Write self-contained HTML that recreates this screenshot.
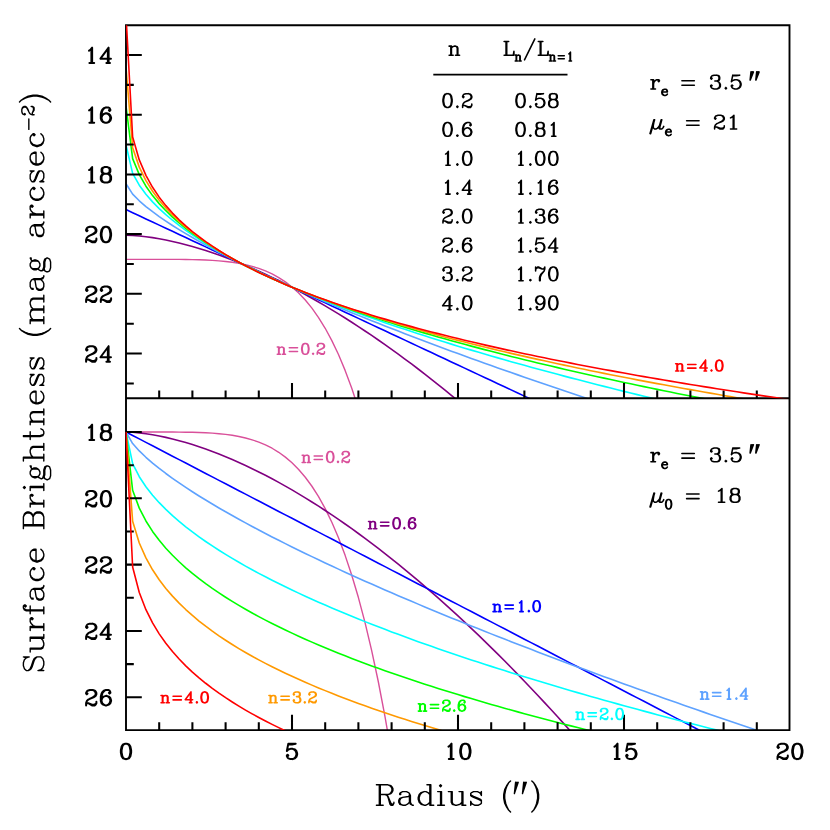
<!DOCTYPE html>
<html lang="en"><head><meta charset="utf-8"><title>Sersic surface brightness profiles</title>
<style>
html,body{margin:0;padding:0;background:#fff;font-family:"Liberation Sans",sans-serif;}
svg{display:block}
svg path,svg polyline{fill:none;stroke-linecap:round;stroke-linejoin:round}
svg .ax{stroke-linecap:butt;stroke-linejoin:miter}
svg .cv{stroke-linecap:butt;stroke-linejoin:round}
</style></head><body>
<svg width="830" height="830" viewBox="0 0 830 830" role="img" aria-label="Sersic profiles: surface brightness versus radius">
<rect width="830" height="830" fill="#fff" stroke="none"/>
<defs>
<clipPath id="ct"><rect x="125.8" y="25.25" width="663.7" height="373.05"/></clipPath>
<clipPath id="cb"><rect x="125.4" y="398.3" width="664.1" height="331.8"/></clipPath>
</defs>
<polyline class="cv" clip-path="url(#ct)" points="126,259.33 132.64,259.33 139.28,259.33 145.92,259.33 152.56,259.33 159.2,259.34 165.84,259.35 172.48,259.37 179.12,259.42 185.76,259.49 192.4,259.61 199.04,259.78 205.68,260.03 212.32,260.38 218.96,260.85 225.6,261.48 232.24,262.3 238.88,263.36 245.52,264.69 252.16,266.35 258.8,268.41 265.44,270.92 272.08,273.95 278.72,277.59 285.36,281.92 292,287.04 298.64,293.05 305.28,300.05 311.92,308.17 318.56,317.54 325.2,328.29 331.84,340.58 338.48,354.55 345.12,370.39 351.76,388.27 358.4,408.38 365.04,430.93 371.68,456.12 378.32,484.19 384.96,515.38 391.6,549.94 398.24,588.12 404.88,630.22 411.52,676.53 418.16,727.35 424.8,783.01 431.44,843.84 438.08,910.2 444.72,982.45 451.36,1060.98 458,1146.19 464.64,1238.5 471.28,1338.33 477.92,1446.15 484.56,1562.42 491.2,1687.63 497.84,1822.29 504.48,1966.91 511.12,2000" stroke="#d9509a" stroke-width="1.4"/>
<polyline class="cv" clip-path="url(#ct)" points="126,235.2 132.64,235.45 139.28,235.98 145.92,236.73 152.56,237.66 159.2,238.77 165.84,240.04 172.48,241.45 179.12,243.01 185.76,244.7 192.4,246.53 199.04,248.48 205.68,250.55 212.32,252.74 218.96,255.05 225.6,257.46 232.24,259.99 238.88,262.63 245.52,265.37 252.16,268.21 258.8,271.16 265.44,274.21 272.08,277.35 278.72,280.59 285.36,283.93 292,287.36 298.64,290.88 305.28,294.5 311.92,298.2 318.56,301.99 325.2,305.88 331.84,309.85 338.48,313.9 345.12,318.04 351.76,322.27 358.4,326.58 365.04,330.97 371.68,335.45 378.32,340 384.96,344.64 391.6,349.36 398.24,354.15 404.88,359.03 411.52,363.98 418.16,369.01 424.8,374.12 431.44,379.3 438.08,384.56 444.72,389.89 451.36,395.3 458,400.78 464.64,406.34 471.28,411.97 477.92,417.67 484.56,423.44 491.2,429.29 497.84,435.21 504.48,441.2 511.12,447.25 517.76,453.38 524.4,459.58 531.04,465.85 537.68,472.18 544.32,478.59 550.96,485.06 557.6,491.6 564.24,498.21 570.88,504.88 577.52,511.63 584.16,518.43 590.8,525.31 597.44,532.25 604.08,539.25 610.72,546.33 617.36,553.46 624,560.66 630.64,567.93 637.28,575.25 643.92,582.65 650.56,590.1 657.2,597.62 663.84,605.2 670.48,612.85 677.12,620.55 683.76,628.32 690.4,636.15 697.04,644.05 703.68,652 710.32,660.02 716.96,668.09 723.6,676.23 730.24,684.43 736.88,692.68 743.52,701 750.16,709.38 756.8,717.82 763.44,726.31 770.08,734.87 776.72,743.48 783.36,752.16 790,760.89" stroke="#800080" stroke-width="1.6"/>
<polyline class="cv" clip-path="url(#ct)" points="126,209.58 132.64,212.69 139.28,215.8 145.92,218.91 152.56,222.02 159.2,225.13 165.84,228.23 172.48,231.34 179.12,234.45 185.76,237.56 192.4,240.67 199.04,243.78 205.68,246.89 212.32,250 218.96,253.1 225.6,256.21 232.24,259.32 238.88,262.43 245.52,265.54 252.16,268.65 258.8,271.76 265.44,274.87 272.08,277.97 278.72,281.08 285.36,284.19 292,287.3 298.64,290.41 305.28,293.52 311.92,296.63 318.56,299.74 325.2,302.84 331.84,305.95 338.48,309.06 345.12,312.17 351.76,315.28 358.4,318.39 365.04,321.5 371.68,324.61 378.32,327.71 384.96,330.82 391.6,333.93 398.24,337.04 404.88,340.15 411.52,343.26 418.16,346.37 424.8,349.48 431.44,352.58 438.08,355.69 444.72,358.8 451.36,361.91 458,365.02 464.64,368.13 471.28,371.24 477.92,374.35 484.56,377.45 491.2,380.56 497.84,383.67 504.48,386.78 511.12,389.89 517.76,393 524.4,396.11 531.04,399.22 537.68,402.32 544.32,405.43 550.96,408.54 557.6,411.65 564.24,414.76 570.88,417.87 577.52,420.98 584.16,424.09 590.8,427.19 597.44,430.3 604.08,433.41 610.72,436.52 617.36,439.63 624,442.74 630.64,445.85 637.28,448.96 643.92,452.06 650.56,455.17 657.2,458.28 663.84,461.39 670.48,464.5 677.12,467.61 683.76,470.72 690.4,473.83 697.04,476.93 703.68,480.04 710.32,483.15 716.96,486.26 723.6,489.37 730.24,492.48 736.88,495.59 743.52,498.7 750.16,501.8 756.8,504.91 763.44,508.02 770.08,511.13 776.72,514.24 783.36,517.35 790,520.46" stroke="#0000ff" stroke-width="1.6"/>
<polyline class="cv" clip-path="url(#ct)" points="126,183.77 132.64,194.15 139.28,200.81 145.92,206.53 152.56,211.72 159.2,216.55 165.84,221.11 172.48,225.46 179.12,229.63 185.76,233.66 192.4,237.55 199.04,241.34 205.68,245.04 212.32,248.64 218.96,252.17 225.6,255.62 232.24,259.01 238.88,262.34 245.52,265.62 252.16,268.84 258.8,272.01 265.44,275.14 272.08,278.23 278.72,281.28 285.36,284.29 292,287.26 298.64,290.2 305.28,293.11 311.92,295.99 318.56,298.83 325.2,301.65 331.84,304.45 338.48,307.22 345.12,309.96 351.76,312.68 358.4,315.38 365.04,318.05 371.68,320.71 378.32,323.34 384.96,325.95 391.6,328.55 398.24,331.12 404.88,333.68 411.52,336.22 418.16,338.75 424.8,341.25 431.44,343.75 438.08,346.22 444.72,348.68 451.36,351.13 458,353.56 464.64,355.98 471.28,358.39 477.92,360.78 484.56,363.16 491.2,365.53 497.84,367.88 504.48,370.22 511.12,372.55 517.76,374.87 524.4,377.18 531.04,379.48 537.68,381.76 544.32,384.04 550.96,386.3 557.6,388.56 564.24,390.81 570.88,393.04 577.52,395.27 584.16,397.48 590.8,399.69 597.44,401.89 604.08,404.08 610.72,406.26 617.36,408.44 624,410.6 630.64,412.76 637.28,414.9 643.92,417.04 650.56,419.18 657.2,421.3 663.84,423.42 670.48,425.53 677.12,427.63 683.76,429.73 690.4,431.81 697.04,433.89 703.68,435.97 710.32,438.04 716.96,440.1 723.6,442.15 730.24,444.2 736.88,446.24 743.52,448.27 750.16,450.3 756.8,452.32 763.44,454.34 770.08,456.35 776.72,458.35 783.36,460.35 790,462.35" stroke="#5ea2ff" stroke-width="1.6"/>
<polyline class="cv" clip-path="url(#ct)" points="126,144.96 132.64,173.41 139.28,185.2 145.92,194.24 152.56,201.86 159.2,208.58 165.84,214.65 172.48,220.24 179.12,225.43 185.76,230.32 192.4,234.93 199.04,239.33 205.68,243.52 212.32,247.55 218.96,251.42 225.6,255.16 232.24,258.77 238.88,262.27 245.52,265.67 252.16,268.98 258.8,272.2 265.44,275.35 272.08,278.41 278.72,281.41 285.36,284.35 292,287.22 298.64,290.04 305.28,292.8 311.92,295.52 318.56,298.18 325.2,300.8 331.84,303.38 338.48,305.91 345.12,308.41 351.76,310.87 358.4,313.29 365.04,315.68 371.68,318.03 378.32,320.35 384.96,322.65 391.6,324.91 398.24,327.15 404.88,329.35 411.52,331.54 418.16,333.69 424.8,335.83 431.44,337.94 438.08,340.02 444.72,342.09 451.36,344.13 458,346.15 464.64,348.15 471.28,350.14 477.92,352.1 484.56,354.04 491.2,355.97 497.84,357.88 504.48,359.77 511.12,361.65 517.76,363.51 524.4,365.35 531.04,367.18 537.68,369 544.32,370.8 550.96,372.58 557.6,374.35 564.24,376.11 570.88,377.86 577.52,379.59 584.16,381.31 590.8,383.01 597.44,384.71 604.08,386.39 610.72,388.06 617.36,389.72 624,391.37 630.64,393.01 637.28,394.63 643.92,396.25 650.56,397.85 657.2,399.45 663.84,401.04 670.48,402.61 677.12,404.18 683.76,405.73 690.4,407.28 697.04,408.82 703.68,410.35 710.32,411.87 716.96,413.38 723.6,414.89 730.24,416.38 736.88,417.87 743.52,419.35 750.16,420.82 756.8,422.28 763.44,423.74 770.08,425.19 776.72,426.63 783.36,428.06 790,429.49" stroke="#00ffff" stroke-width="1.6"/>
<polyline class="cv" clip-path="url(#ct)" points="126,106.1 132.64,158.61 139.28,174.65 145.92,186.22 152.56,195.6 159.2,203.62 165.84,210.7 172.48,217.09 179.12,222.94 185.76,228.36 192.4,233.41 199.04,238.16 205.68,242.66 212.32,246.93 218.96,251 225.6,254.9 232.24,258.64 238.88,262.23 245.52,265.7 252.16,269.06 258.8,272.31 265.44,275.45 272.08,278.51 278.72,281.48 285.36,284.38 292,287.2 298.64,289.95 305.28,292.64 311.92,295.27 318.56,297.84 325.2,300.35 331.84,302.82 338.48,305.24 345.12,307.61 351.76,309.93 358.4,312.22 365.04,314.47 371.68,316.67 378.32,318.84 384.96,320.98 391.6,323.08 398.24,325.15 404.88,327.19 411.52,329.2 418.16,331.18 424.8,333.14 431.44,335.07 438.08,336.97 444.72,338.84 451.36,340.7 458,342.53 464.64,344.33 471.28,346.12 477.92,347.89 484.56,349.63 491.2,351.35 497.84,353.06 504.48,354.75 511.12,356.42 517.76,358.07 524.4,359.7 531.04,361.32 537.68,362.92 544.32,364.51 550.96,366.08 557.6,367.63 564.24,369.17 570.88,370.7 577.52,372.21 584.16,373.71 590.8,375.19 597.44,376.66 604.08,378.12 610.72,379.57 617.36,381 624,382.43 630.64,383.84 637.28,385.24 643.92,386.63 650.56,388.01 657.2,389.37 663.84,390.73 670.48,392.08 677.12,393.41 683.76,394.74 690.4,396.06 697.04,397.36 703.68,398.66 710.32,399.95 716.96,401.23 723.6,402.5 730.24,403.76 736.88,405.02 743.52,406.26 750.16,407.5 756.8,408.73 763.44,409.95 770.08,411.16 776.72,412.37 783.36,413.57 790,414.76" stroke="#00ff00" stroke-width="1.6"/>
<polyline class="cv" clip-path="url(#ct)" points="126,67.23 132.64,147.67 139.28,167.13 145.92,180.62 152.56,191.29 159.2,200.25 165.84,208.04 172.48,214.99 179.12,221.29 185.76,227.07 192.4,232.42 199.04,237.41 205.68,242.1 212.32,246.53 218.96,250.73 225.6,254.73 232.24,258.55 238.88,262.21 245.52,265.72 252.16,269.11 258.8,272.37 265.44,275.52 272.08,278.57 278.72,281.53 285.36,284.4 292,287.18 298.64,289.9 305.28,292.54 311.92,295.11 318.56,297.63 325.2,300.08 331.84,302.48 338.48,304.82 345.12,307.12 351.76,309.37 358.4,311.57 365.04,313.73 371.68,315.85 378.32,317.93 384.96,319.98 391.6,321.98 398.24,323.96 404.88,325.9 411.52,327.81 418.16,329.69 424.8,331.53 431.44,333.36 438.08,335.15 444.72,336.92 451.36,338.66 458,340.38 464.64,342.08 471.28,343.75 477.92,345.4 484.56,347.03 491.2,348.64 497.84,350.23 504.48,351.8 511.12,353.35 517.76,354.88 524.4,356.4 531.04,357.89 537.68,359.38 544.32,360.84 550.96,362.29 557.6,363.72 564.24,365.14 570.88,366.54 577.52,367.93 584.16,369.31 590.8,370.67 597.44,372.02 604.08,373.35 610.72,374.67 617.36,375.98 624,377.28 630.64,378.57 637.28,379.84 643.92,381.1 650.56,382.36 657.2,383.6 663.84,384.83 670.48,386.05 677.12,387.26 683.76,388.46 690.4,389.65 697.04,390.83 703.68,392 710.32,393.16 716.96,394.31 723.6,395.46 730.24,396.59 736.88,397.72 743.52,398.84 750.16,399.95 756.8,401.05 763.44,402.15 770.08,403.23 776.72,404.31 783.36,405.38 790,406.45" stroke="#ff9900" stroke-width="1.6"/>
<polyline class="cv" clip-path="url(#cb)" points="126,432 132.64,432 139.28,432 145.92,432 152.56,432 159.2,432.01 165.84,432.02 172.48,432.05 179.12,432.1 185.76,432.19 192.4,432.32 199.04,432.51 205.68,432.78 212.32,433.17 218.96,433.7 225.6,434.39 232.24,435.31 238.88,436.48 245.52,437.96 252.16,439.81 258.8,442.09 265.44,444.87 272.08,448.24 278.72,452.29 285.36,457.1 292,462.78 298.64,469.45 305.28,477.23 311.92,486.25 318.56,496.65 325.2,508.6 331.84,522.24 338.48,537.77 345.12,555.36 351.76,575.22 358.4,597.56 365.04,622.6 371.68,650.58 378.32,681.76 384.96,716.4 391.6,754.78 398.24,797.19 404.88,843.96 411.52,895.39 418.16,951.84 424.8,1013.66 431.44,1081.22 438.08,1154.93 444.72,1235.18 451.36,1322.4 458,1417.04 464.64,1519.57 471.28,1630.46 477.92,1750.21 484.56,1879.35 491.2,2000" stroke="#d9509a" stroke-width="1.4"/>
<polyline class="cv" clip-path="url(#cb)" points="126,432 132.64,432.27 139.28,432.86 145.92,433.69 152.56,434.73 159.2,435.96 165.84,437.37 172.48,438.94 179.12,440.67 185.76,442.55 192.4,444.58 199.04,446.75 205.68,449.05 212.32,451.48 218.96,454.04 225.6,456.73 232.24,459.53 238.88,462.46 245.52,465.51 252.16,468.66 258.8,471.94 265.44,475.32 272.08,478.81 278.72,482.41 285.36,486.12 292,489.93 298.64,493.84 305.28,497.86 311.92,501.97 318.56,506.19 325.2,510.5 331.84,514.91 338.48,519.41 345.12,524.01 351.76,528.71 358.4,533.49 365.04,538.37 371.68,543.34 378.32,548.4 384.96,553.55 391.6,558.79 398.24,564.12 404.88,569.53 411.52,575.03 418.16,580.62 424.8,586.29 431.44,592.05 438.08,597.89 444.72,603.81 451.36,609.82 458,615.91 464.64,622.08 471.28,628.33 477.92,634.67 484.56,641.08 491.2,647.57 497.84,654.15 504.48,660.8 511.12,667.53 517.76,674.33 524.4,681.22 531.04,688.18 537.68,695.21 544.32,702.33 550.96,709.52 557.6,716.78 564.24,724.12 570.88,731.54 577.52,739.02 584.16,746.59 590.8,754.22 597.44,761.93 604.08,769.71 610.72,777.56 617.36,785.49 624,793.49 630.64,801.56 637.28,809.7 643.92,817.91 650.56,826.19 657.2,834.54 663.84,842.96 670.48,851.45 677.12,860.01 683.76,868.64 690.4,877.34 697.04,886.1 703.68,894.94 710.32,903.84 716.96,912.81 723.6,921.85 730.24,930.95 736.88,940.12 743.52,949.36 750.16,958.67 756.8,968.04 763.44,977.48 770.08,986.98 776.72,996.55 783.36,1006.18 790,1015.88" stroke="#800080" stroke-width="1.6"/>
<polyline class="cv" clip-path="url(#cb)" points="126,432 132.64,435.45 139.28,438.91 145.92,442.36 152.56,445.81 159.2,449.26 165.84,452.72 172.48,456.17 179.12,459.62 185.76,463.08 192.4,466.53 199.04,469.98 205.68,473.43 212.32,476.89 218.96,480.34 225.6,483.79 232.24,487.25 238.88,490.7 245.52,494.15 252.16,497.6 258.8,501.06 265.44,504.51 272.08,507.96 278.72,511.42 285.36,514.87 292,518.32 298.64,521.78 305.28,525.23 311.92,528.68 318.56,532.13 325.2,535.59 331.84,539.04 338.48,542.49 345.12,545.95 351.76,549.4 358.4,552.85 365.04,556.3 371.68,559.76 378.32,563.21 384.96,566.66 391.6,570.12 398.24,573.57 404.88,577.02 411.52,580.47 418.16,583.93 424.8,587.38 431.44,590.83 438.08,594.29 444.72,597.74 451.36,601.19 458,604.64 464.64,608.1 471.28,611.55 477.92,615 484.56,618.46 491.2,621.91 497.84,625.36 504.48,628.81 511.12,632.27 517.76,635.72 524.4,639.17 531.04,642.63 537.68,646.08 544.32,649.53 550.96,652.98 557.6,656.44 564.24,659.89 570.88,663.34 577.52,666.8 584.16,670.25 590.8,673.7 597.44,677.16 604.08,680.61 610.72,684.06 617.36,687.51 624,690.97 630.64,694.42 637.28,697.87 643.92,701.33 650.56,704.78 657.2,708.23 663.84,711.68 670.48,715.14 677.12,718.59 683.76,722.04 690.4,725.5 697.04,728.95 703.68,732.4 710.32,735.85 716.96,739.31 723.6,742.76 730.24,746.21 736.88,749.67 743.52,753.12 750.16,756.57 756.8,760.02 763.44,763.48 770.08,766.93 776.72,770.38 783.36,773.84 790,777.29" stroke="#0000ff" stroke-width="1.6"/>
<polyline class="cv" clip-path="url(#cb)" points="126,432 132.64,443.53 139.28,450.92 145.92,457.28 152.56,463.05 159.2,468.41 165.84,473.48 172.48,478.3 179.12,482.94 185.76,487.41 192.4,491.74 199.04,495.95 205.68,500.05 212.32,504.05 218.96,507.97 225.6,511.81 232.24,515.57 238.88,519.27 245.52,522.91 252.16,526.49 258.8,530.01 265.44,533.49 272.08,536.92 278.72,540.3 285.36,543.64 292,546.95 298.64,550.21 305.28,553.44 311.92,556.64 318.56,559.8 325.2,562.93 331.84,566.04 338.48,569.11 345.12,572.16 351.76,575.18 358.4,578.18 365.04,581.15 371.68,584.09 378.32,587.02 384.96,589.92 391.6,592.8 398.24,595.67 404.88,598.51 411.52,601.33 418.16,604.13 424.8,606.92 431.44,609.69 438.08,612.44 444.72,615.17 451.36,617.89 458,620.59 464.64,623.28 471.28,625.95 477.92,628.6 484.56,631.25 491.2,633.88 497.84,636.49 504.48,639.09 511.12,641.68 517.76,644.26 524.4,646.82 531.04,649.37 537.68,651.91 544.32,654.44 550.96,656.96 557.6,659.46 564.24,661.95 570.88,664.44 577.52,666.91 584.16,669.37 590.8,671.83 597.44,674.27 604.08,676.7 610.72,679.12 617.36,681.54 624,683.94 630.64,686.34 637.28,688.72 643.92,691.1 650.56,693.47 657.2,695.83 663.84,698.18 670.48,700.52 677.12,702.86 683.76,705.18 690.4,707.5 697.04,709.81 703.68,712.12 710.32,714.41 716.96,716.7 723.6,718.98 730.24,721.26 736.88,723.52 743.52,725.78 750.16,728.04 756.8,730.28 763.44,732.52 770.08,734.75 776.72,736.98 783.36,739.2 790,741.41" stroke="#5ea2ff" stroke-width="1.6"/>
<polyline class="cv" clip-path="url(#cb)" points="126,432 132.64,463.6 139.28,476.69 145.92,486.74 152.56,495.21 159.2,502.67 165.84,509.41 172.48,515.61 179.12,521.39 185.76,526.81 192.4,531.94 199.04,536.82 205.68,541.48 212.32,545.95 218.96,550.25 225.6,554.4 232.24,558.41 238.88,562.3 245.52,566.08 252.16,569.75 258.8,573.33 265.44,576.82 272.08,580.23 278.72,583.56 285.36,586.82 292,590.02 298.64,593.14 305.28,596.21 311.92,599.23 318.56,602.19 325.2,605.1 331.84,607.96 338.48,610.77 345.12,613.55 351.76,616.28 358.4,618.97 365.04,621.62 371.68,624.23 378.32,626.81 384.96,629.36 391.6,631.88 398.24,634.36 404.88,636.81 411.52,639.24 418.16,641.63 424.8,644 431.44,646.34 438.08,648.66 444.72,650.95 451.36,653.22 458,655.47 464.64,657.69 471.28,659.89 477.92,662.07 484.56,664.23 491.2,666.37 497.84,668.5 504.48,670.6 511.12,672.68 517.76,674.75 524.4,676.8 531.04,678.83 537.68,680.84 544.32,682.84 550.96,684.82 557.6,686.79 564.24,688.74 570.88,690.68 577.52,692.61 584.16,694.52 590.8,696.41 597.44,698.29 604.08,700.16 610.72,702.02 617.36,703.86 624,705.69 630.64,707.51 637.28,709.32 643.92,711.11 650.56,712.89 657.2,714.67 663.84,716.43 670.48,718.18 677.12,719.92 683.76,721.65 690.4,723.37 697.04,725.08 703.68,726.77 710.32,728.46 716.96,730.14 723.6,731.81 730.24,733.47 736.88,735.13 743.52,736.77 750.16,738.4 756.8,740.03 763.44,741.65 770.08,743.25 776.72,744.85 783.36,746.45 790,748.03" stroke="#00ffff" stroke-width="1.6"/>
<polyline class="cv" clip-path="url(#cb)" points="126,432 132.64,490.32 139.28,508.14 145.92,520.99 152.56,531.4 159.2,540.31 165.84,548.18 172.48,555.28 179.12,561.77 185.76,567.79 192.4,573.4 199.04,578.68 205.68,583.67 212.32,588.42 218.96,592.94 225.6,597.27 232.24,601.42 238.88,605.42 245.52,609.27 252.16,613 258.8,616.6 265.44,620.1 272.08,623.5 278.72,626.8 285.36,630.01 292,633.15 298.64,636.2 305.28,639.19 311.92,642.11 318.56,644.96 325.2,647.76 331.84,650.5 338.48,653.18 345.12,655.81 351.76,658.4 358.4,660.94 365.04,663.43 371.68,665.88 378.32,668.29 384.96,670.67 391.6,673 398.24,675.3 404.88,677.57 411.52,679.8 418.16,682 424.8,684.17 431.44,686.31 438.08,688.42 444.72,690.51 451.36,692.57 458,694.6 464.64,696.61 471.28,698.59 477.92,700.55 484.56,702.49 491.2,704.4 497.84,706.3 504.48,708.17 511.12,710.02 517.76,711.86 524.4,713.67 531.04,715.47 537.68,717.25 544.32,719.01 550.96,720.75 557.6,722.48 564.24,724.19 570.88,725.89 577.52,727.56 584.16,729.23 590.8,730.88 597.44,732.51 604.08,734.13 610.72,735.74 617.36,737.34 624,738.92 630.64,740.48 637.28,742.04 643.92,743.58 650.56,745.11 657.2,746.63 663.84,748.14 670.48,749.63 677.12,751.12 683.76,752.59 690.4,754.05 697.04,755.5 703.68,756.95 710.32,758.38 716.96,759.8 723.6,761.21 730.24,762.61 736.88,764.01 743.52,765.39 750.16,766.76 756.8,768.13 763.44,769.48 770.08,770.83 776.72,772.17 783.36,773.5 790,774.83" stroke="#00ff00" stroke-width="1.6"/>
<polyline class="cv" clip-path="url(#cb)" points="126,432 132.64,521.35 139.28,542.95 145.92,557.94 152.56,569.79 159.2,579.74 165.84,588.4 172.48,596.12 179.12,603.12 185.76,609.53 192.4,615.47 199.04,621.02 205.68,626.23 212.32,631.15 218.96,635.82 225.6,640.26 232.24,644.5 238.88,648.57 245.52,652.47 252.16,656.22 258.8,659.85 265.44,663.35 272.08,666.74 278.72,670.02 285.36,673.21 292,676.3 298.64,679.32 305.28,682.25 311.92,685.11 318.56,687.9 325.2,690.63 331.84,693.29 338.48,695.9 345.12,698.45 351.76,700.94 358.4,703.39 365.04,705.79 371.68,708.14 378.32,710.46 384.96,712.72 391.6,714.95 398.24,717.15 404.88,719.3 411.52,721.42 418.16,723.51 424.8,725.56 431.44,727.59 438.08,729.58 444.72,731.54 451.36,733.48 458,735.39 464.64,737.27 471.28,739.13 477.92,740.97 484.56,742.78 491.2,744.56 497.84,746.33 504.48,748.07 511.12,749.79 517.76,751.5 524.4,753.18 531.04,754.84 537.68,756.49 544.32,758.11 550.96,759.72 557.6,761.31 564.24,762.89 570.88,764.45 577.52,765.99 584.16,767.52 590.8,769.03 597.44,770.53 604.08,772.01 610.72,773.48 617.36,774.93 624,776.37 630.64,777.8 637.28,779.22 643.92,780.62 650.56,782.01 657.2,783.39 663.84,784.76 670.48,786.11 677.12,787.46 683.76,788.79 690.4,790.11 697.04,791.42 703.68,792.72 710.32,794.01 716.96,795.29 723.6,796.56 730.24,797.83 736.88,799.08 743.52,800.32 750.16,801.55 756.8,802.78 763.44,803.99 770.08,805.2 776.72,806.4 783.36,807.59 790,808.77" stroke="#ff9900" stroke-width="1.6"/>
<path d="M126 25.25H789.5V730.1H126Z M126 398.3H789.5" stroke="#000" stroke-width="1.9" class="ax"/>
<path d="M159.2 398.3v-7.8M192.4 398.3v-7.8M225.6 398.3v-7.8M258.8 398.3v-7.8M292 398.3v-15.4M325.2 398.3v-7.8M358.4 398.3v-7.8M391.6 398.3v-7.8M424.8 398.3v-7.8M458 398.3v-15.4M491.2 398.3v-7.8M524.4 398.3v-7.8M557.6 398.3v-7.8M590.8 398.3v-7.8M624 398.3v-15.4M657.2 398.3v-7.8M690.4 398.3v-7.8M723.6 398.3v-7.8M756.8 398.3v-7.8M159.2 730.1v-7.8M192.4 730.1v-7.8M225.6 730.1v-7.8M258.8 730.1v-7.8M292 730.1v-15.4M325.2 730.1v-7.8M358.4 730.1v-7.8M391.6 730.1v-7.8M424.8 730.1v-7.8M458 730.1v-15.4M491.2 730.1v-7.8M524.4 730.1v-7.8M557.6 730.1v-7.8M590.8 730.1v-7.8M624 730.1v-15.4M657.2 730.1v-7.8M690.4 730.1v-7.8M723.6 730.1v-7.8M756.8 730.1v-7.8M126 55h15.8M126 84.86h7.8M126 114.71h15.8M126 144.56h7.8M126 174.42h15.8M126 204.28h7.8M126 234.13h15.8M126 263.99h7.8M126 293.84h15.8M126 323.69h7.8M126 353.55h15.8M126 383.41h7.8M126 432h15.8M126 465.16h7.8M126 498.32h15.8M126 531.48h7.8M126 564.64h15.8M126 597.8h7.8M126 630.96h15.8M126 664.12h7.8M126 697.28h15.8" stroke="#000" stroke-width="2.05" class="ax"/>
<polyline class="cv" clip-path="url(#ct)" points="126,15.39 132.64,136.93 139.28,159.93 145.92,175.35 152.56,187.28 159.2,197.14 165.84,205.62 172.48,213.09 179.12,219.8 185.76,225.91 192.4,231.53 199.04,236.74 205.68,241.61 212.32,246.18 218.96,250.5 225.6,254.59 232.24,258.48 238.88,262.19 245.52,265.74 252.16,269.15 258.8,272.42 265.44,275.58 272.08,278.62 278.72,281.56 285.36,284.41 292,287.17 298.64,289.85 305.28,292.45 311.92,294.98 318.56,297.44 325.2,299.84 331.84,302.19 338.48,304.47 345.12,306.7 351.76,308.89 358.4,311.02 365.04,313.11 371.68,315.16 378.32,317.16 384.96,319.13 391.6,321.06 398.24,322.95 404.88,324.81 411.52,326.63 418.16,328.43 424.8,330.19 431.44,331.93 438.08,333.63 444.72,335.31 451.36,336.97 458,338.59 464.64,340.2 471.28,341.78 477.92,343.34 484.56,344.87 491.2,346.39 497.84,347.88 504.48,349.36 511.12,350.81 517.76,352.25 524.4,353.67 531.04,355.07 537.68,356.45 544.32,357.82 550.96,359.17 557.6,360.5 564.24,361.82 570.88,363.13 577.52,364.42 584.16,365.69 590.8,366.96 597.44,368.21 604.08,369.44 610.72,370.66 617.36,371.88 624,373.07 630.64,374.26 637.28,375.43 643.92,376.6 650.56,377.75 657.2,378.89 663.84,380.02 670.48,381.14 677.12,382.25 683.76,383.35 690.4,384.44 697.04,385.52 703.68,386.59 710.32,387.66 716.96,388.71 723.6,389.75 730.24,390.79 736.88,391.82 743.52,392.84 750.16,393.85 756.8,394.85 763.44,395.84 770.08,396.83 776.72,397.81 783.36,398.78 790,399.75" stroke="#ff0000" stroke-width="1.6"/>
<polyline class="cv" clip-path="url(#cb)" points="126,432 132.64,567 139.28,592.54 145.92,609.67 152.56,622.92 159.2,633.87 165.84,643.29 172.48,651.59 179.12,659.04 185.76,665.83 192.4,672.07 199.04,677.86 205.68,683.26 212.32,688.34 218.96,693.13 225.6,697.68 232.24,702 238.88,706.12 245.52,710.07 252.16,713.85 258.8,717.49 265.44,720.99 272.08,724.37 278.72,727.64 285.36,730.8 292,733.87 298.64,736.84 305.28,739.73 311.92,742.54 318.56,745.28 325.2,747.95 331.84,750.55 338.48,753.08 345.12,755.56 351.76,757.99 358.4,760.36 365.04,762.68 371.68,764.95 378.32,767.18 384.96,769.36 391.6,771.51 398.24,773.61 404.88,775.67 411.52,777.7 418.16,779.69 424.8,781.65 431.44,783.58 438.08,785.47 444.72,787.34 451.36,789.18 458,790.98 464.64,792.77 471.28,794.52 477.92,796.25 484.56,797.96 491.2,799.64 497.84,801.3 504.48,802.94 511.12,804.55 517.76,806.15 524.4,807.72 531.04,809.28 537.68,810.82 544.32,812.34 550.96,813.84 557.6,815.32 564.24,816.79 570.88,818.23 577.52,819.67 584.16,821.08 590.8,822.49 597.44,823.87 604.08,825.25 610.72,826.61 617.36,827.95 624,829.28 630.64,830.6 637.28,831.9 643.92,833.2 650.56,834.48 657.2,835.74 663.84,837 670.48,838.24 677.12,839.48 683.76,840.7 690.4,841.91 697.04,843.11 703.68,844.3 710.32,845.48 716.96,846.65 723.6,847.81 730.24,848.96 736.88,850.1 743.52,851.23 750.16,852.35 756.8,853.47 763.44,854.57 770.08,855.67 776.72,856.76 783.36,857.83 790,858.91" stroke="#ff0000" stroke-width="1.6"/>
<path role="img" aria-label="n=0.2" d="M278.62 347.09 278.62 354.34M279.08 347.09 279.08 354.34M279.08 348.64 280 347.61 281.39 347.09 282.31 347.09 283.69 347.61 284.15 348.64 284.15 354.34M282.31 347.09 283.23 347.61 283.69 348.64 283.69 354.34M277.24 347.09 279.08 347.09M277.24 354.34 280.46 354.34M282.31 354.34 285.53 354.34M289.26 347.81 297.55 347.81M289.26 351.44 297.55 351.44M304.8 343.46 303.24 343.98 302.21 345.53 301.69 348.12 301.69 349.68 302.21 352.27 303.24 353.82 304.8 354.34 305.83 354.34 307.39 353.82 308.42 352.27 308.94 349.68 308.94 348.12 308.42 345.53 307.39 343.98 305.83 343.46 304.8 343.46M304.8 343.46 303.76 343.98 303.24 344.5 302.73 345.53 302.21 348.12 302.21 349.68 302.73 352.27 303.24 353.3 303.76 353.82 304.8 354.34M305.83 354.34 306.87 353.82 307.39 353.3 307.91 352.27 308.42 349.68 308.42 348.12 307.91 345.53 307.39 344.5 306.87 343.98 305.83 343.46M313.09 353.3 312.57 353.82 313.09 354.34 313.6 353.82 313.09 353.3M317.75 345.53 318.27 346.05 317.75 346.57 317.23 346.05 317.23 345.53 317.75 344.5 318.27 343.98 319.82 343.46 321.89 343.46 323.45 343.98 323.96 344.5 324.48 345.53 324.48 346.57 323.96 347.61 322.41 348.64 319.82 349.68 318.78 350.2 317.75 351.23 317.23 352.79 317.23 354.34M321.89 343.46 322.93 343.98 323.45 344.5 323.96 345.53 323.96 346.57 323.45 347.61 321.89 348.64 319.82 349.68M317.23 353.3 317.75 352.79 318.78 352.79 321.37 353.82 322.93 353.82 323.96 353.3 324.48 352.79M318.78 352.79 321.37 354.34 323.45 354.34 323.96 353.82 324.48 352.79 324.48 351.75" stroke="#d9509a" stroke-width="1.5"><title>n=0.2</title></path>
<path role="img" aria-label="n=0.2" d="M303.52 455.16 303.52 462.41M303.98 455.16 303.98 462.41M303.98 456.71 304.9 455.68 306.29 455.16 307.21 455.16 308.59 455.68 309.05 456.71 309.05 462.41M307.21 455.16 308.13 455.68 308.59 456.71 308.59 462.41M302.14 455.16 303.98 455.16M302.14 462.41 305.36 462.41M307.21 462.41 310.43 462.41M314.16 455.88 322.45 455.88M314.16 459.51 322.45 459.51M329.7 451.53 328.14 452.05 327.11 453.6 326.59 456.19 326.59 457.75 327.11 460.34 328.14 461.89 329.7 462.41 330.73 462.41 332.29 461.89 333.32 460.34 333.84 457.75 333.84 456.19 333.32 453.6 332.29 452.05 330.73 451.53 329.7 451.53M329.7 451.53 328.66 452.05 328.14 452.57 327.63 453.6 327.11 456.19 327.11 457.75 327.63 460.34 328.14 461.37 328.66 461.89 329.7 462.41M330.73 462.41 331.77 461.89 332.29 461.37 332.81 460.34 333.32 457.75 333.32 456.19 332.81 453.6 332.29 452.57 331.77 452.05 330.73 451.53M337.99 461.37 337.47 461.89 337.99 462.41 338.5 461.89 337.99 461.37M342.65 453.6 343.17 454.12 342.65 454.64 342.13 454.12 342.13 453.6 342.65 452.57 343.17 452.05 344.72 451.53 346.79 451.53 348.35 452.05 348.86 452.57 349.38 453.6 349.38 454.64 348.86 455.68 347.31 456.71 344.72 457.75 343.68 458.27 342.65 459.3 342.13 460.86 342.13 462.41M346.79 451.53 347.83 452.05 348.35 452.57 348.86 453.6 348.86 454.64 348.35 455.68 346.79 456.71 344.72 457.75M342.13 461.37 342.65 460.86 343.68 460.86 346.27 461.89 347.83 461.89 348.86 461.37 349.38 460.86M343.68 460.86 346.27 462.41 348.35 462.41 348.86 461.89 349.38 460.86 349.38 459.82" stroke="#d9509a" stroke-width="1.5"><title>n=0.2</title></path>
<path role="img" aria-label="n=0.6" d="M369.92 521.48 369.92 528.73M370.38 521.48 370.38 528.73M370.38 523.03 371.3 522 372.69 521.48 373.61 521.48 374.99 522 375.45 523.03 375.45 528.73M373.61 521.48 374.53 522 374.99 523.03 374.99 528.73M368.54 521.48 370.38 521.48M368.54 528.73 371.76 528.73M373.61 528.73 376.83 528.73M380.56 522.2 388.85 522.2M380.56 525.83 388.85 525.83M396.1 517.85 394.54 518.37 393.51 519.92 392.99 522.51 392.99 524.07 393.51 526.66 394.54 528.21 396.1 528.73 397.13 528.73 398.69 528.21 399.72 526.66 400.24 524.07 400.24 522.51 399.72 519.92 398.69 518.37 397.13 517.85 396.1 517.85M396.1 517.85 395.06 518.37 394.54 518.89 394.03 519.92 393.51 522.51 393.51 524.07 394.03 526.66 394.54 527.69 395.06 528.21 396.1 528.73M397.13 528.73 398.17 528.21 398.69 527.69 399.21 526.66 399.72 524.07 399.72 522.51 399.21 519.92 398.69 518.89 398.17 518.37 397.13 517.85M404.39 527.69 403.87 528.21 404.39 528.73 404.9 528.21 404.39 527.69M414.75 519.41 414.23 519.92 414.75 520.44 415.26 519.92 415.26 519.41 414.75 518.37 413.71 517.85 412.16 517.85 410.6 518.37 409.57 519.41 409.05 520.44 408.53 522.51 408.53 525.62 409.05 527.18 410.08 528.21 411.64 528.73 412.67 528.73 414.23 528.21 415.26 527.18 415.78 525.62 415.78 525.1 415.26 523.55 414.23 522.51 412.67 522 412.16 522 410.6 522.51 409.57 523.55 409.05 525.1M412.16 517.85 411.12 518.37 410.08 519.41 409.57 520.44 409.05 522.51 409.05 525.62 409.57 527.18 410.6 528.21 411.64 528.73M412.67 528.73 413.71 528.21 414.75 527.18 415.26 525.62 415.26 525.1 414.75 523.55 413.71 522.51 412.67 522" stroke="#800080" stroke-width="1.6"><title>n=0.6</title></path>
<path role="img" aria-label="n=1.0" d="M494.42 604.38 494.42 611.63M494.88 604.38 494.88 611.63M494.88 605.93 495.8 604.89 497.19 604.38 498.11 604.38 499.49 604.89 499.95 605.93 499.95 611.63M498.11 604.38 499.03 604.89 499.49 605.93 499.49 611.63M493.04 604.38 494.88 604.38M493.04 611.63 496.26 611.63M498.11 611.63 501.33 611.63M505.06 605.1 513.35 605.1M505.06 608.73 513.35 608.73M519.56 602.82 520.44 602.3 521.74 600.75 521.74 611.63M521.22 601.27 521.22 611.63M519.82 611.63 523.19 611.63M528.89 610.59 528.37 611.11 528.89 611.63 529.4 611.11 528.89 610.59M536.14 600.75 534.58 601.27 533.55 602.82 533.03 605.41 533.03 606.97 533.55 609.56 534.58 611.11 536.14 611.63 537.17 611.63 538.73 611.11 539.76 609.56 540.28 606.97 540.28 605.41 539.76 602.82 538.73 601.27 537.17 600.75 536.14 600.75M536.14 600.75 535.1 601.27 534.58 601.79 534.07 602.82 533.55 605.41 533.55 606.97 534.07 609.56 534.58 610.59 535.1 611.11 536.14 611.63M537.17 611.63 538.21 611.11 538.73 610.59 539.25 609.56 539.76 606.97 539.76 605.41 539.25 602.82 538.73 601.79 538.21 601.27 537.17 600.75" stroke="#0000ff" stroke-width="1.6"><title>n=1.0</title></path>
<path role="img" aria-label="n=1.4" d="M701.92 691.92 701.92 699.17M702.38 691.92 702.38 699.17M702.38 693.47 703.3 692.44 704.69 691.92 705.61 691.92 706.99 692.44 707.45 693.47 707.45 699.17M705.61 691.92 706.53 692.44 706.99 693.47 706.99 699.17M700.54 691.92 702.38 691.92M700.54 699.17 703.76 699.17M705.61 699.17 708.83 699.17M712.56 692.64 720.85 692.64M712.56 696.27 720.85 696.27M727.06 690.37 727.94 689.85 729.24 688.29 729.24 699.17M728.72 688.81 728.72 699.17M727.32 699.17 730.69 699.17M736.39 698.14 735.87 698.65 736.39 699.17 736.9 698.65 736.39 698.14M745.5 689.33 745.5 699.17M746.02 688.29 746.02 699.17M746.02 688.29 740.27 696.06 747.68 696.06M744.47 699.17 747.01 699.17" stroke="#5ea2ff" stroke-width="1.6"><title>n=1.4</title></path>
<path role="img" aria-label="n=2.0" d="M577.42 712.15 577.42 719.4M577.88 712.15 577.88 719.4M577.88 713.7 578.8 712.66 580.19 712.15 581.11 712.15 582.49 712.66 582.95 713.7 582.95 719.4M581.11 712.15 582.03 712.66 582.49 713.7 582.49 719.4M576.04 712.15 577.88 712.15M576.04 719.4 579.26 719.4M581.11 719.4 584.33 719.4M588.06 712.87 596.35 712.87M588.06 716.5 596.35 716.5M601.01 710.59 601.53 711.11 601.01 711.63 600.49 711.11 600.49 710.59 601.01 709.56 601.53 709.04 603.08 708.52 605.15 708.52 606.71 709.04 607.22 709.56 607.74 710.59 607.74 711.63 607.22 712.66 605.67 713.7 603.08 714.74 602.04 715.25 601.01 716.29 600.49 717.84 600.49 719.4M605.15 708.52 606.19 709.04 606.71 709.56 607.22 710.59 607.22 711.63 606.71 712.66 605.15 713.7 603.08 714.74M600.49 718.36 601.01 717.84 602.04 717.84 604.63 718.88 606.19 718.88 607.22 718.36 607.74 717.84M602.04 717.84 604.63 719.4 606.71 719.4 607.22 718.88 607.74 717.84 607.74 716.81M611.89 718.36 611.37 718.88 611.89 719.4 612.4 718.88 611.89 718.36M619.14 708.52 617.58 709.04 616.55 710.59 616.03 713.18 616.03 714.74 616.55 717.33 617.58 718.88 619.14 719.4 620.17 719.4 621.73 718.88 622.76 717.33 623.28 714.74 623.28 713.18 622.76 710.59 621.73 709.04 620.17 708.52 619.14 708.52M619.14 708.52 618.1 709.04 617.58 709.56 617.07 710.59 616.55 713.18 616.55 714.74 617.07 717.33 617.58 718.36 618.1 718.88 619.14 719.4M620.17 719.4 621.21 718.88 621.73 718.36 622.25 717.33 622.76 714.74 622.76 713.18 622.25 710.59 621.73 709.56 621.21 709.04 620.17 708.52" stroke="#00ffff" stroke-width="1.6"><title>n=2.0</title></path>
<path role="img" aria-label="n=2.6" d="M419.72 703.86 419.72 711.11M420.18 703.86 420.18 711.11M420.18 705.41 421.1 704.38 422.49 703.86 423.41 703.86 424.79 704.38 425.25 705.41 425.25 711.11M423.41 703.86 424.33 704.38 424.79 705.41 424.79 711.11M418.34 703.86 420.18 703.86M418.34 711.11 421.56 711.11M423.41 711.11 426.63 711.11M430.36 704.58 438.65 704.58M430.36 708.21 438.65 708.21M443.31 702.3 443.83 702.82 443.31 703.34 442.79 702.82 442.79 702.3 443.31 701.27 443.83 700.75 445.38 700.23 447.45 700.23 449.01 700.75 449.52 701.27 450.04 702.3 450.04 703.34 449.52 704.38 447.97 705.41 445.38 706.45 444.34 706.96 443.31 708 442.79 709.55 442.79 711.11M447.45 700.23 448.49 700.75 449.01 701.27 449.52 702.3 449.52 703.34 449.01 704.38 447.45 705.41 445.38 706.45M442.79 710.07 443.31 709.55 444.34 709.55 446.93 710.59 448.49 710.59 449.52 710.07 450.04 709.55M444.34 709.55 446.93 711.11 449.01 711.11 449.52 710.59 450.04 709.55 450.04 708.52M454.19 710.07 453.67 710.59 454.19 711.11 454.7 710.59 454.19 710.07M464.55 701.78 464.03 702.3 464.55 702.82 465.06 702.3 465.06 701.78 464.55 700.75 463.51 700.23 461.96 700.23 460.4 700.75 459.37 701.78 458.85 702.82 458.33 704.89 458.33 708 458.85 709.55 459.88 710.59 461.44 711.11 462.47 711.11 464.03 710.59 465.06 709.55 465.58 708 465.58 707.48 465.06 705.93 464.03 704.89 462.47 704.38 461.96 704.38 460.4 704.89 459.37 705.93 458.85 707.48M461.96 700.23 460.92 700.75 459.88 701.78 459.37 702.82 458.85 704.89 458.85 708 459.37 709.55 460.4 710.59 461.44 711.11M462.47 711.11 463.51 710.59 464.55 709.55 465.06 708 465.06 707.48 464.55 705.93 463.51 704.89 462.47 704.38" stroke="#00ff00" stroke-width="1.6"><title>n=2.6</title></path>
<path role="img" aria-label="n=3.2" d="M270.32 695.57 270.32 702.82M270.78 695.57 270.78 702.82M270.78 697.12 271.7 696.09 273.09 695.57 274.01 695.57 275.39 696.09 275.85 697.12 275.85 702.82M274.01 695.57 274.93 696.09 275.39 697.12 275.39 702.82M268.94 695.57 270.78 695.57M268.94 702.82 272.16 702.82M274.01 702.82 277.23 702.82M280.96 696.29 289.25 696.29M280.96 699.92 289.25 699.92M293.91 694.01 294.43 694.53 293.91 695.05 293.39 694.53 293.39 694.01 293.91 692.98 294.43 692.46 295.98 691.94 298.05 691.94 299.61 692.46 300.12 693.5 300.12 695.05 299.61 696.09 298.05 696.6 296.5 696.6M298.05 691.94 299.09 692.46 299.61 693.5 299.61 695.05 299.09 696.09 298.05 696.6M298.05 696.6 299.09 697.12 300.12 698.16 300.64 699.19 300.64 700.75 300.12 701.78 299.61 702.3 298.05 702.82 295.98 702.82 294.43 702.3 293.91 701.78 293.39 700.75 293.39 700.23 293.91 699.71 294.43 700.23 293.91 700.75M299.61 697.64 300.12 699.19 300.12 700.75 299.61 701.78 299.09 702.3 298.05 702.82M304.79 701.78 304.27 702.3 304.79 702.82 305.3 702.3 304.79 701.78M309.45 694.01 309.97 694.53 309.45 695.05 308.93 694.53 308.93 694.01 309.45 692.98 309.97 692.46 311.52 691.94 313.59 691.94 315.15 692.46 315.66 692.98 316.18 694.01 316.18 695.05 315.66 696.09 314.11 697.12 311.52 698.16 310.48 698.67 309.45 699.71 308.93 701.26 308.93 702.82M313.59 691.94 314.63 692.46 315.15 692.98 315.66 694.01 315.66 695.05 315.15 696.09 313.59 697.12 311.52 698.16M308.93 701.78 309.45 701.26 310.48 701.26 313.07 702.3 314.63 702.3 315.66 701.78 316.18 701.26M310.48 701.26 313.07 702.82 315.15 702.82 315.66 702.3 316.18 701.26 316.18 700.23" stroke="#ff9900" stroke-width="1.6"><title>n=3.2</title></path>
<path role="img" aria-label="n=4.0" d="M677.02 363.79 677.02 371.04M677.48 363.79 677.48 371.04M677.48 365.34 678.4 364.31 679.79 363.79 680.71 363.79 682.09 364.31 682.55 365.34 682.55 371.04M680.71 363.79 681.63 364.31 682.09 365.34 682.09 371.04M675.64 363.79 677.48 363.79M675.64 371.04 678.86 371.04M680.71 371.04 683.93 371.04M687.66 364.51 695.95 364.51M687.66 368.14 695.95 368.14M705.06 361.2 705.06 371.04M705.58 360.16 705.58 371.04M705.58 360.16 699.83 367.93 707.24 367.93M704.03 371.04 706.57 371.04M711.49 370 710.97 370.52 711.49 371.04 712 370.52 711.49 370M718.74 360.16 717.18 360.68 716.15 362.23 715.63 364.82 715.63 366.38 716.15 368.97 717.18 370.52 718.74 371.04 719.77 371.04 721.33 370.52 722.36 368.97 722.88 366.38 722.88 364.82 722.36 362.23 721.33 360.68 719.77 360.16 718.74 360.16M718.74 360.16 717.7 360.68 717.18 361.2 716.67 362.23 716.15 364.82 716.15 366.38 716.67 368.97 717.18 370 717.7 370.52 718.74 371.04M719.77 371.04 720.81 370.52 721.33 370 721.85 368.97 722.36 366.38 722.36 364.82 721.85 362.23 721.33 361.2 720.81 360.68 719.77 360.16" stroke="#ff0000" stroke-width="1.6"><title>n=4.0</title></path>
<path role="img" aria-label="n=4.0" d="M162.42 695.57 162.42 702.82M162.88 695.57 162.88 702.82M162.88 697.12 163.8 696.09 165.19 695.57 166.11 695.57 167.49 696.09 167.95 697.12 167.95 702.82M166.11 695.57 167.03 696.09 167.49 697.12 167.49 702.82M161.04 695.57 162.88 695.57M161.04 702.82 164.26 702.82M166.11 702.82 169.33 702.82M173.06 696.29 181.35 696.29M173.06 699.92 181.35 699.92M190.46 692.98 190.46 702.82M190.98 691.94 190.98 702.82M190.98 691.94 185.23 699.71 192.64 699.71M189.43 702.82 191.97 702.82M196.89 701.78 196.37 702.3 196.89 702.82 197.4 702.3 196.89 701.78M204.14 691.94 202.58 692.46 201.55 694.01 201.03 696.6 201.03 698.16 201.55 700.75 202.58 702.3 204.14 702.82 205.17 702.82 206.73 702.3 207.76 700.75 208.28 698.16 208.28 696.6 207.76 694.01 206.73 692.46 205.17 691.94 204.14 691.94M204.14 691.94 203.1 692.46 202.58 692.98 202.07 694.01 201.55 696.6 201.55 698.16 202.07 700.75 202.58 701.78 203.1 702.3 204.14 702.82M205.17 702.82 206.21 702.3 206.73 701.78 207.25 700.75 207.76 698.16 207.76 696.6 207.25 694.01 206.73 692.98 206.21 692.46 205.17 691.94" stroke="#ff0000" stroke-width="1.6"><title>n=4.0</title></path>
<path role="img" aria-label="14" d="M89.05 50.62 90.29 49.89 92.13 47.68 92.13 63.12M91.4 48.42 91.4 63.12M89.41 63.12 94.19 63.12M107.86 49.15 107.86 63.12M108.6 47.68 108.6 63.12M108.6 47.68 100.44 58.71 110.95 58.71M106.39 63.12 109.99 63.12" stroke="#000" stroke-width="2"><title>14</title></path>
<path role="img" aria-label="16" d="M89.05 110.33 90.29 109.6 92.13 107.39 92.13 122.83M91.4 108.13 91.4 122.83M89.41 122.83 94.19 122.83M109.62 109.6 108.89 110.33 109.62 111.07 110.36 110.33 110.36 109.6 109.62 108.13 108.16 107.39 105.95 107.39 103.75 108.13 102.27 109.6 101.54 111.07 100.8 114.01 100.8 118.42 101.54 120.62 103.01 122.09 105.22 122.83 106.69 122.83 108.89 122.09 110.36 120.62 111.09 118.42 111.09 117.68 110.36 115.48 108.89 114.01 106.69 113.27 105.95 113.27 103.75 114.01 102.27 115.48 101.54 117.68M105.95 107.39 104.48 108.13 103.01 109.6 102.27 111.07 101.54 114.01 101.54 118.42 102.27 120.62 103.75 122.09 105.22 122.83M106.69 122.83 108.16 122.09 109.62 120.62 110.36 118.42 110.36 117.68 109.62 115.48 108.16 114.01 106.69 113.27" stroke="#000" stroke-width="2"><title>16</title></path>
<path role="img" aria-label="18" d="M89.05 170.04 90.29 169.31 92.13 167.1 92.13 182.54M91.4 167.84 91.4 182.54M89.41 182.54 94.19 182.54M104.48 167.1 102.27 167.84 101.54 169.31 101.54 171.51 102.27 172.98 104.48 173.72 107.42 173.72 109.62 172.98 110.36 171.51 110.36 169.31 109.62 167.84 107.42 167.1 104.48 167.1M104.48 167.1 103.01 167.84 102.27 169.31 102.27 171.51 103.01 172.98 104.48 173.72M107.42 173.72 108.89 172.98 109.62 171.51 109.62 169.31 108.89 167.84 107.42 167.1M104.48 173.72 102.27 174.45 101.54 175.19 100.8 176.66 100.8 179.6 101.54 181.07 102.27 181.8 104.48 182.54 107.42 182.54 109.62 181.8 110.36 181.07 111.09 179.6 111.09 176.66 110.36 175.19 109.62 174.45 107.42 173.72M104.48 173.72 103.01 174.45 102.27 175.19 101.54 176.66 101.54 179.6 102.27 181.07 103.01 181.8 104.48 182.54M107.42 182.54 108.89 181.8 109.62 181.07 110.36 179.6 110.36 176.66 109.62 175.19 108.89 174.45 107.42 173.72" stroke="#000" stroke-width="2"><title>18</title></path>
<path role="img" aria-label="20" d="M86.84 229.75 87.58 230.49 86.84 231.22 86.1 230.49 86.1 229.75 86.84 228.28 87.58 227.55 89.78 226.81 92.72 226.81 94.92 227.55 95.66 228.28 96.39 229.75 96.39 231.22 95.66 232.69 93.45 234.16 89.78 235.63 88.31 236.37 86.84 237.84 86.1 240.04 86.1 242.25M92.72 226.81 94.19 227.55 94.92 228.28 95.66 229.75 95.66 231.22 94.92 232.69 92.72 234.16 89.78 235.63M86.1 240.78 86.84 240.04 88.31 240.04 91.98 241.51 94.19 241.51 95.66 240.78 96.39 240.04M88.31 240.04 91.98 242.25 94.92 242.25 95.66 241.51 96.39 240.04 96.39 238.57M105.22 226.81 103.01 227.55 101.54 229.75 100.8 233.43 100.8 235.63 101.54 239.31 103.01 241.51 105.22 242.25 106.69 242.25 108.89 241.51 110.36 239.31 111.09 235.63 111.09 233.43 110.36 229.75 108.89 227.55 106.69 226.81 105.22 226.81M105.22 226.81 103.75 227.55 103.01 228.28 102.27 229.75 101.54 233.43 101.54 235.63 102.27 239.31 103.01 240.78 103.75 241.51 105.22 242.25M106.69 242.25 108.16 241.51 108.89 240.78 109.62 239.31 110.36 235.63 110.36 233.43 109.62 229.75 108.89 228.28 108.16 227.55 106.69 226.81" stroke="#000" stroke-width="2"><title>20</title></path>
<path role="img" aria-label="22" d="M86.84 289.46 87.58 290.2 86.84 290.93 86.1 290.2 86.1 289.46 86.84 287.99 87.58 287.26 89.78 286.52 92.72 286.52 94.92 287.26 95.66 287.99 96.39 289.46 96.39 290.93 95.66 292.4 93.45 293.87 89.78 295.34 88.31 296.08 86.84 297.55 86.1 299.75 86.1 301.96M92.72 286.52 94.19 287.26 94.92 287.99 95.66 289.46 95.66 290.93 94.92 292.4 92.72 293.87 89.78 295.34M86.1 300.49 86.84 299.75 88.31 299.75 91.98 301.22 94.19 301.22 95.66 300.49 96.39 299.75M88.31 299.75 91.98 301.96 94.92 301.96 95.66 301.22 96.39 299.75 96.39 298.28M101.54 289.46 102.27 290.2 101.54 290.93 100.8 290.2 100.8 289.46 101.54 287.99 102.27 287.26 104.48 286.52 107.42 286.52 109.62 287.26 110.36 287.99 111.09 289.46 111.09 290.93 110.36 292.4 108.16 293.87 104.48 295.34 103.01 296.08 101.54 297.55 100.8 299.75 100.8 301.96M107.42 286.52 108.89 287.26 109.62 287.99 110.36 289.46 110.36 290.93 109.62 292.4 107.42 293.87 104.48 295.34M100.8 300.49 101.54 299.75 103.01 299.75 106.69 301.22 108.89 301.22 110.36 300.49 111.09 299.75M103.01 299.75 106.69 301.96 109.62 301.96 110.36 301.22 111.09 299.75 111.09 298.28" stroke="#000" stroke-width="2"><title>22</title></path>
<path role="img" aria-label="24" d="M86.84 349.17 87.58 349.91 86.84 350.64 86.1 349.91 86.1 349.17 86.84 347.7 87.58 346.97 89.78 346.23 92.72 346.23 94.92 346.97 95.66 347.7 96.39 349.17 96.39 350.64 95.66 352.11 93.45 353.58 89.78 355.05 88.31 355.79 86.84 357.26 86.1 359.46 86.1 361.67M92.72 346.23 94.19 346.97 94.92 347.7 95.66 349.17 95.66 350.64 94.92 352.11 92.72 353.58 89.78 355.05M86.1 360.2 86.84 359.46 88.31 359.46 91.98 360.93 94.19 360.93 95.66 360.2 96.39 359.46M88.31 359.46 91.98 361.67 94.92 361.67 95.66 360.93 96.39 359.46 96.39 357.99M107.86 347.7 107.86 361.67M108.6 346.23 108.6 361.67M108.6 346.23 100.44 357.26 110.95 357.26M106.39 361.67 109.99 361.67" stroke="#000" stroke-width="2"><title>24</title></path>
<path role="img" aria-label="18" d="M89.05 427.62 90.29 426.89 92.13 424.68 92.13 440.12M91.4 425.42 91.4 440.12M89.41 440.12 94.19 440.12M104.48 424.68 102.27 425.42 101.54 426.89 101.54 429.09 102.27 430.56 104.48 431.3 107.42 431.3 109.62 430.56 110.36 429.09 110.36 426.89 109.62 425.42 107.42 424.68 104.48 424.68M104.48 424.68 103.01 425.42 102.27 426.89 102.27 429.09 103.01 430.56 104.48 431.3M107.42 431.3 108.89 430.56 109.62 429.09 109.62 426.89 108.89 425.42 107.42 424.68M104.48 431.3 102.27 432.03 101.54 432.77 100.8 434.24 100.8 437.18 101.54 438.65 102.27 439.38 104.48 440.12 107.42 440.12 109.62 439.38 110.36 438.65 111.09 437.18 111.09 434.24 110.36 432.77 109.62 432.03 107.42 431.3M104.48 431.3 103.01 432.03 102.27 432.77 101.54 434.24 101.54 437.18 102.27 438.65 103.01 439.38 104.48 440.12M107.42 440.12 108.89 439.38 109.62 438.65 110.36 437.18 110.36 434.24 109.62 432.77 108.89 432.03 107.42 431.3" stroke="#000" stroke-width="2"><title>18</title></path>
<path role="img" aria-label="20" d="M86.84 493.94 87.58 494.68 86.84 495.41 86.1 494.68 86.1 493.94 86.84 492.47 87.58 491.74 89.78 491 92.72 491 94.92 491.74 95.66 492.47 96.39 493.94 96.39 495.41 95.66 496.88 93.45 498.35 89.78 499.82 88.31 500.56 86.84 502.03 86.1 504.23 86.1 506.44M92.72 491 94.19 491.74 94.92 492.47 95.66 493.94 95.66 495.41 94.92 496.88 92.72 498.35 89.78 499.82M86.1 504.97 86.84 504.23 88.31 504.23 91.98 505.7 94.19 505.7 95.66 504.97 96.39 504.23M88.31 504.23 91.98 506.44 94.92 506.44 95.66 505.7 96.39 504.23 96.39 502.76M105.22 491 103.01 491.74 101.54 493.94 100.8 497.62 100.8 499.82 101.54 503.5 103.01 505.7 105.22 506.44 106.69 506.44 108.89 505.7 110.36 503.5 111.09 499.82 111.09 497.62 110.36 493.94 108.89 491.74 106.69 491 105.22 491M105.22 491 103.75 491.74 103.01 492.47 102.27 493.94 101.54 497.62 101.54 499.82 102.27 503.5 103.01 504.97 103.75 505.7 105.22 506.44M106.69 506.44 108.16 505.7 108.89 504.97 109.62 503.5 110.36 499.82 110.36 497.62 109.62 493.94 108.89 492.47 108.16 491.74 106.69 491" stroke="#000" stroke-width="2"><title>20</title></path>
<path role="img" aria-label="22" d="M86.84 560.26 87.58 561 86.84 561.73 86.1 561 86.1 560.26 86.84 558.79 87.58 558.06 89.78 557.32 92.72 557.32 94.92 558.06 95.66 558.79 96.39 560.26 96.39 561.73 95.66 563.2 93.45 564.67 89.78 566.14 88.31 566.88 86.84 568.35 86.1 570.55 86.1 572.76M92.72 557.32 94.19 558.06 94.92 558.79 95.66 560.26 95.66 561.73 94.92 563.2 92.72 564.67 89.78 566.14M86.1 571.29 86.84 570.55 88.31 570.55 91.98 572.02 94.19 572.02 95.66 571.29 96.39 570.55M88.31 570.55 91.98 572.76 94.92 572.76 95.66 572.02 96.39 570.55 96.39 569.08M101.54 560.26 102.27 561 101.54 561.73 100.8 561 100.8 560.26 101.54 558.79 102.27 558.06 104.48 557.32 107.42 557.32 109.62 558.06 110.36 558.79 111.09 560.26 111.09 561.73 110.36 563.2 108.16 564.67 104.48 566.14 103.01 566.88 101.54 568.35 100.8 570.55 100.8 572.76M107.42 557.32 108.89 558.06 109.62 558.79 110.36 560.26 110.36 561.73 109.62 563.2 107.42 564.67 104.48 566.14M100.8 571.29 101.54 570.55 103.01 570.55 106.69 572.02 108.89 572.02 110.36 571.29 111.09 570.55M103.01 570.55 106.69 572.76 109.62 572.76 110.36 572.02 111.09 570.55 111.09 569.08" stroke="#000" stroke-width="2"><title>22</title></path>
<path role="img" aria-label="24" d="M86.84 626.58 87.58 627.32 86.84 628.05 86.1 627.32 86.1 626.58 86.84 625.11 87.58 624.38 89.78 623.64 92.72 623.64 94.92 624.38 95.66 625.11 96.39 626.58 96.39 628.05 95.66 629.52 93.45 630.99 89.78 632.46 88.31 633.2 86.84 634.67 86.1 636.87 86.1 639.08M92.72 623.64 94.19 624.38 94.92 625.11 95.66 626.58 95.66 628.05 94.92 629.52 92.72 630.99 89.78 632.46M86.1 637.61 86.84 636.87 88.31 636.87 91.98 638.34 94.19 638.34 95.66 637.61 96.39 636.87M88.31 636.87 91.98 639.08 94.92 639.08 95.66 638.34 96.39 636.87 96.39 635.4M107.86 625.11 107.86 639.08M108.6 623.64 108.6 639.08M108.6 623.64 100.44 634.67 110.95 634.67M106.39 639.08 109.99 639.08" stroke="#000" stroke-width="2"><title>24</title></path>
<path role="img" aria-label="26" d="M86.84 692.9 87.58 693.64 86.84 694.37 86.1 693.64 86.1 692.9 86.84 691.43 87.58 690.7 89.78 689.96 92.72 689.96 94.92 690.7 95.66 691.43 96.39 692.9 96.39 694.37 95.66 695.84 93.45 697.31 89.78 698.78 88.31 699.52 86.84 700.99 86.1 703.19 86.1 705.4M92.72 689.96 94.19 690.7 94.92 691.43 95.66 692.9 95.66 694.37 94.92 695.84 92.72 697.31 89.78 698.78M86.1 703.93 86.84 703.19 88.31 703.19 91.98 704.66 94.19 704.66 95.66 703.93 96.39 703.19M88.31 703.19 91.98 705.4 94.92 705.4 95.66 704.66 96.39 703.19 96.39 701.72M109.62 692.17 108.89 692.9 109.62 693.64 110.36 692.9 110.36 692.17 109.62 690.7 108.16 689.96 105.95 689.96 103.75 690.7 102.27 692.17 101.54 693.64 100.8 696.58 100.8 700.99 101.54 703.19 103.01 704.66 105.22 705.4 106.69 705.4 108.89 704.66 110.36 703.19 111.09 700.99 111.09 700.25 110.36 698.05 108.89 696.58 106.69 695.84 105.95 695.84 103.75 696.58 102.27 698.05 101.54 700.25M105.95 689.96 104.48 690.7 103.01 692.17 102.27 693.64 101.54 696.58 101.54 700.99 102.27 703.19 103.75 704.66 105.22 705.4M106.69 705.4 108.16 704.66 109.62 703.19 110.36 700.99 110.36 700.25 109.62 698.05 108.16 696.58 106.69 695.84" stroke="#000" stroke-width="2"><title>26</title></path>
<path role="img" aria-label="0" d="M125.27 743.68 123.06 744.42 121.59 746.62 120.86 750.3 120.86 752.5 121.59 756.18 123.06 758.38 125.27 759.12 126.73 759.12 128.94 758.38 130.41 756.18 131.15 752.5 131.15 750.3 130.41 746.62 128.94 744.42 126.73 743.68 125.27 743.68M125.27 743.68 123.8 744.42 123.06 745.15 122.33 746.62 121.59 750.3 121.59 752.5 122.33 756.18 123.06 757.65 123.8 758.38 125.27 759.12M126.73 759.12 128.21 758.38 128.94 757.65 129.68 756.18 130.41 752.5 130.41 750.3 129.68 746.62 128.94 745.15 128.21 744.42 126.73 743.68" stroke="#000" stroke-width="2"><title>0</title></path>
<path role="img" aria-label="5" d="M288.32 743.68 286.86 751.03M286.86 751.03 288.32 749.56 290.53 748.83 292.74 748.83 294.94 749.56 296.41 751.03 297.14 753.24 297.14 754.71 296.41 756.91 294.94 758.38 292.74 759.12 290.53 759.12 288.32 758.38 287.59 757.65 286.86 756.18 286.86 755.44 287.59 754.71 288.32 755.44 287.59 756.18M292.74 748.83 294.2 749.56 295.68 751.03 296.41 753.24 296.41 754.71 295.68 756.91 294.2 758.38 292.74 759.12M288.32 743.68 295.68 743.68M288.32 744.42 292 744.42 295.68 743.68" stroke="#000" stroke-width="2"><title>5</title></path>
<path role="img" aria-label="10" d="M448.44 746.62 449.69 745.89 451.53 743.68 451.53 759.12M450.8 744.42 450.8 759.12M448.81 759.12 453.59 759.12M464.62 743.68 462.41 744.42 460.94 746.62 460.2 750.3 460.2 752.5 460.94 756.18 462.41 758.38 464.62 759.12 466.08 759.12 468.29 758.38 469.76 756.18 470.5 752.5 470.5 750.3 469.76 746.62 468.29 744.42 466.08 743.68 464.62 743.68M464.62 743.68 463.14 744.42 462.41 745.15 461.68 746.62 460.94 750.3 460.94 752.5 461.68 756.18 462.41 757.65 463.14 758.38 464.62 759.12M466.08 759.12 467.56 758.38 468.29 757.65 469.02 756.18 469.76 752.5 469.76 750.3 469.02 746.62 468.29 745.15 467.56 744.42 466.08 743.68" stroke="#000" stroke-width="2"><title>10</title></path>
<path role="img" aria-label="15" d="M614.45 746.62 615.69 745.89 617.53 743.68 617.53 759.12M616.8 744.42 616.8 759.12M614.81 759.12 619.59 759.12M627.67 743.68 626.21 751.03M626.21 751.03 627.67 749.56 629.88 748.83 632.09 748.83 634.29 749.56 635.76 751.03 636.5 753.24 636.5 754.71 635.76 756.91 634.29 758.38 632.09 759.12 629.88 759.12 627.67 758.38 626.94 757.65 626.21 756.18 626.21 755.44 626.94 754.71 627.67 755.44 626.94 756.18M632.09 748.83 633.55 749.56 635.02 751.03 635.76 753.24 635.76 754.71 635.02 756.91 633.55 758.38 632.09 759.12M627.67 743.68 635.02 743.68M627.67 744.42 631.35 744.42 635.02 743.68" stroke="#000" stroke-width="2"><title>15</title></path>
<path role="img" aria-label="20" d="M778.24 746.62 778.98 747.36 778.24 748.09 777.5 747.36 777.5 746.62 778.24 745.15 778.98 744.42 781.18 743.68 784.12 743.68 786.33 744.42 787.06 745.15 787.79 746.62 787.79 748.09 787.06 749.56 784.86 751.03 781.18 752.5 779.71 753.24 778.24 754.71 777.5 756.91 777.5 759.12M784.12 743.68 785.59 744.42 786.33 745.15 787.06 746.62 787.06 748.09 786.33 749.56 784.12 751.03 781.18 752.5M777.5 757.65 778.24 756.91 779.71 756.91 783.38 758.38 785.59 758.38 787.06 757.65 787.79 756.91M779.71 756.91 783.38 759.12 786.33 759.12 787.06 758.38 787.79 756.91 787.79 755.44M796.62 743.68 794.41 744.42 792.94 746.62 792.21 750.3 792.21 752.5 792.94 756.18 794.41 758.38 796.62 759.12 798.09 759.12 800.29 758.38 801.76 756.18 802.5 752.5 802.5 750.3 801.76 746.62 800.29 744.42 798.09 743.68 796.62 743.68M796.62 743.68 795.14 744.42 794.41 745.15 793.67 746.62 792.94 750.3 792.94 752.5 793.67 756.18 794.41 757.65 795.14 758.38 796.62 759.12M798.09 759.12 799.55 758.38 800.29 757.65 801.02 756.18 801.76 752.5 801.76 750.3 801.02 746.62 800.29 745.15 799.55 744.42 798.09 743.68" stroke="#000" stroke-width="2"><title>20</title></path>
<path role="img" aria-label="Radius (" d="M379.32 784.79 379.32 805.2M380.29 784.79 380.29 805.2M376.4 784.79 388.06 784.79 390.98 785.76 391.95 786.73 392.92 788.68 392.92 790.62 391.95 792.56 390.98 793.54 388.06 794.51 380.29 794.51M388.06 784.79 390.01 785.76 390.98 786.73 391.95 788.68 391.95 790.62 390.98 792.56 390.01 793.54 388.06 794.51M376.4 805.2 383.2 805.2M385.15 794.51 387.09 795.48 388.06 796.45 390.98 803.26 391.95 804.23 392.92 804.23 393.9 803.26M387.09 795.48 388.06 797.42 390.01 804.23 390.98 805.2 392.92 805.2 393.9 803.26 393.9 802.28M400.7 793.54 400.7 794.51 399.73 794.51 399.73 793.54 400.7 792.56 402.64 791.59 406.53 791.59 408.48 792.56 409.45 793.54 410.42 795.48 410.42 802.28 411.39 804.23 412.36 805.2M409.45 793.54 409.45 802.28 410.42 804.23 412.36 805.2 413.34 805.2M409.45 795.48 408.48 796.45 402.64 797.42 399.73 798.4 398.76 800.34 398.76 802.28 399.73 804.23 402.64 805.2 405.56 805.2 407.5 804.23 409.45 802.28M402.64 797.42 400.7 798.4 399.73 800.34 399.73 802.28 400.7 804.23 402.64 805.2M429.86 784.79 429.86 805.2M430.83 784.79 430.83 805.2M429.86 794.51 427.92 792.56 425.97 791.59 424.03 791.59 421.11 792.56 419.17 794.51 418.2 797.42 418.2 799.37 419.17 802.28 421.11 804.23 424.03 805.2 425.97 805.2 427.92 804.23 429.86 802.28M424.03 791.59 422.08 792.56 420.14 794.51 419.17 797.42 419.17 799.37 420.14 802.28 422.08 804.23 424.03 805.2M426.94 784.79 430.83 784.79M429.86 805.2 433.75 805.2M440.55 784.79 439.58 785.76 440.55 786.73 441.52 785.76 440.55 784.79M440.55 791.59 440.55 805.2M441.52 791.59 441.52 805.2M437.64 791.59 441.52 791.59M437.64 805.2 444.44 805.2M451.24 791.59 451.24 802.28 452.22 804.23 455.13 805.2 457.08 805.2 459.99 804.23 461.94 802.28M452.22 791.59 452.22 802.28 453.19 804.23 455.13 805.2M461.94 791.59 461.94 805.2M462.91 791.59 462.91 805.2M448.33 791.59 452.22 791.59M459.02 791.59 462.91 791.59M461.94 805.2 465.82 805.2M480.4 793.54 481.38 791.59 481.38 795.48 480.4 793.54 479.43 792.56 477.49 791.59 473.6 791.59 471.66 792.56 470.68 793.54 470.68 795.48 471.66 796.45 473.6 797.42 478.46 799.37 480.4 800.34 481.38 801.31M470.68 794.51 471.66 795.48 473.6 796.45 478.46 798.4 480.4 799.37 481.38 800.34 481.38 803.26 480.4 804.23 478.46 805.2 474.57 805.2 472.63 804.23 471.66 803.26 470.68 801.31 470.68 805.2 471.66 803.26M510.54 780.9 508.59 782.84 506.65 785.76 504.7 789.65 503.73 794.51 503.73 798.4 504.7 803.26 506.65 807.14 508.59 810.06 510.54 812M508.59 782.84 506.65 786.73 505.68 789.65 504.7 794.51 504.7 798.4 505.68 803.26 506.65 806.17 508.59 810.06" stroke="#000" stroke-width="1.4"><title>Radius (</title></path>
<path role="img" aria-label=")" d="M531.8 780.9 533.74 782.84 535.69 785.76 537.63 789.65 538.6 794.51 538.6 798.4 537.63 803.26 535.69 807.14 533.74 810.06 531.8 812M533.74 782.84 535.69 786.73 536.66 789.65 537.63 794.51 537.63 798.4 536.66 803.26 535.69 806.17 533.74 810.06" stroke="#000" stroke-width="1.4"><title>)</title></path>
<path role="img" aria-label="arcsec" d="M515.6 782.3L514.4 793.6M516.9 782.3L514.4 793.6M518.2 782.3L514.4 793.6M523.7 782.3L522.5 793.6M525 782.3L522.5 793.6M526.3 782.3L522.5 793.6" stroke="#000" stroke-width="1.4"><title>″</title></path>
<path role="img" aria-label="Surface Brightness (mag arcsec^-2)" d="M26.3 657.87 23.39 656.89 29.22 656.89 26.3 657.87 24.36 659.83 23.39 662.77 23.39 665.71 24.36 668.64 26.3 670.6 28.25 670.6 30.19 669.62 31.16 668.64 32.14 666.68 34.08 660.81 35.05 658.85 37 656.89M28.25 670.6 30.19 668.64 31.16 666.68 33.11 660.81 34.08 658.85 35.05 657.87 37 656.89 40.88 656.89 42.83 658.85 43.8 661.79 43.8 664.73 42.83 667.66 40.88 669.62 37.97 670.6 43.8 670.6 40.88 669.62M30.19 649.06 40.88 649.06 42.83 648.08 43.8 645.15 43.8 643.19 42.83 640.25 40.88 638.29M30.19 648.08 40.88 648.08 42.83 647.1 43.8 645.15M30.19 638.29 43.8 638.29M30.19 637.31 43.8 637.31M30.19 652 30.19 648.08M30.19 641.23 30.19 637.31M43.8 638.29 43.8 634.38M30.19 627.52 43.8 627.52M30.19 626.55 43.8 626.55M36.02 626.55 33.11 625.57 31.16 623.61 30.19 621.65 30.19 618.71 31.16 617.73 32.14 617.73 33.11 618.71 32.14 619.69 31.16 618.71M30.19 630.46 30.19 626.55M43.8 630.46 43.8 623.61M24.36 605.99 25.33 606.97 26.3 605.99 25.33 605.01 24.36 605.01 23.39 605.99 23.39 607.94 24.36 609.9 26.3 610.88 43.8 610.88M23.39 607.94 24.36 608.92 26.3 609.9 43.8 609.9M30.19 613.82 30.19 605.99M43.8 613.82 43.8 606.97M32.14 598.15 33.11 598.15 33.11 599.13 32.14 599.13 31.16 598.15 30.19 596.2 30.19 592.28 31.16 590.32 32.14 589.34 34.08 588.36 40.88 588.36 42.83 587.38 43.8 586.41M32.14 589.34 40.88 589.34 42.83 588.36 43.8 586.41 43.8 585.43M34.08 589.34 35.05 590.32 36.02 596.2 37 599.13 38.94 600.11 40.88 600.11 42.83 599.13 43.8 596.2 43.8 593.26 42.83 591.3 40.88 589.34M36.02 596.2 37 598.15 38.94 599.13 40.88 599.13 42.83 598.15 43.8 596.2M33.11 568.78 34.08 569.76 35.05 568.78 34.08 567.81 33.11 567.81 31.16 569.76 30.19 571.72 30.19 574.66 31.16 577.6 33.11 579.55 36.02 580.53 37.97 580.53 40.88 579.55 42.83 577.6 43.8 574.66 43.8 572.7 42.83 569.76 40.88 567.81M30.19 574.66 31.16 576.62 33.11 578.57 36.02 579.55 37.97 579.55 40.88 578.57 42.83 576.62 43.8 574.66M36.02 560.95 36.02 549.2 34.08 549.2 32.14 550.18 31.16 551.16 30.19 553.12 30.19 556.06 31.16 558.99 33.11 560.95 36.02 561.93 37.97 561.93 40.88 560.95 42.83 558.99 43.8 556.06 43.8 554.1 42.83 551.16 40.88 549.2M36.02 550.18 33.11 550.18 31.16 551.16M30.19 556.06 31.16 558.01 33.11 559.97 36.02 560.95 37.97 560.95 40.88 559.97 42.83 558.01 43.8 556.06M23.39 525.71 43.8 525.71M23.39 524.73 43.8 524.73M23.39 528.64 23.39 516.9 24.36 513.96 25.33 512.98 27.28 512 29.22 512 31.16 512.98 32.14 513.96 33.11 516.9M23.39 516.9 24.36 514.94 25.33 513.96 27.28 512.98 29.22 512.98 31.16 513.96 32.14 514.94 33.11 516.9M33.11 524.73 33.11 516.9 34.08 513.96 35.05 512.98 37 512 39.91 512 41.86 512.98 42.83 513.96 43.8 516.9 43.8 528.64M33.11 516.9 34.08 514.94 35.05 513.96 37 512.98 39.91 512.98 41.86 513.96 42.83 514.94 43.8 516.9M30.19 504.17 43.8 504.17M30.19 503.19 43.8 503.19M36.02 503.19 33.11 502.21 31.16 500.25 30.19 498.3 30.19 495.36 31.16 494.38 32.14 494.38 33.11 495.36 32.14 496.34 31.16 495.36M30.19 507.11 30.19 503.19M43.8 507.11 43.8 500.25M23.39 487.53 24.36 488.51 25.33 487.53 24.36 486.55 23.39 487.53M30.19 487.53 43.8 487.53M30.19 486.55 43.8 486.55M30.19 490.46 30.19 486.55M43.8 490.46 43.8 483.61M30.19 473.82 31.16 475.78 32.14 476.76 34.08 477.74 36.02 477.74 37.97 476.76 38.94 475.78 39.91 473.82 39.91 471.86 38.94 469.91 37.97 468.93 36.02 467.95 34.08 467.95 32.14 468.93 31.16 469.91 30.19 471.86 30.19 473.82M31.16 475.78 33.11 476.76 37 476.76 38.94 475.78M38.94 469.91 37 468.93 33.11 468.93 31.16 469.91M32.14 468.93 31.16 467.95 30.19 465.99 31.16 465.99 31.16 467.95M37.97 476.76 38.94 477.74 40.88 478.72 41.86 478.72 43.8 477.74 44.77 474.8 44.77 469.91 45.74 466.97 46.72 465.99M41.86 478.72 42.83 477.74 43.8 474.8 43.8 469.91 44.77 466.97 46.72 465.99 47.69 465.99 49.63 466.97 50.6 469.91 50.6 475.78 49.63 478.72 47.69 479.7 46.72 479.7 44.77 478.72 43.8 475.78M23.39 458.16 43.8 458.16M23.39 457.18 43.8 457.18M33.11 457.18 31.16 455.22 30.19 452.28 30.19 450.33 31.16 447.39 33.11 446.41 43.8 446.41M30.19 450.33 31.16 448.37 33.11 447.39 43.8 447.39M23.39 461.09 23.39 457.18M43.8 461.09 43.8 454.24M43.8 450.33 43.8 443.47M23.39 436.62 39.91 436.62 42.83 435.64 43.8 433.68 43.8 431.72 42.83 429.77 40.88 428.79M23.39 435.64 39.91 435.64 42.83 434.66 43.8 433.68M30.19 439.56 30.19 431.72M30.19 422.07 43.8 422.07M30.19 421.2 43.8 421.2M33.11 421.2 31.16 419.46 30.19 416.84 30.19 415.1 31.16 412.49 33.11 411.62 43.8 411.62M30.19 415.1 31.16 413.36 33.11 412.49 43.8 412.49M30.19 424.68 30.19 421.2M43.8 424.68 43.8 418.59M43.8 415.1 43.8 409M36.02 402.94 36.02 391.19 34.08 391.19 32.14 392.17 31.16 393.15 30.19 395.11 30.19 398.05 31.16 400.98 33.11 402.94 36.02 403.92 37.97 403.92 40.88 402.94 42.83 400.98 43.8 398.05 43.8 396.09 42.83 393.15 40.88 391.19M36.02 392.17 33.11 392.17 31.16 393.15M30.19 398.05 31.16 400 33.11 401.96 36.02 402.94 37.97 402.94 40.88 401.96 42.83 400 43.8 398.05M32.14 375.53 30.19 374.55 34.08 374.55 32.14 375.53 31.16 376.51 30.19 378.47 30.19 382.38 31.16 384.34 32.14 385.32 34.08 385.32 35.05 384.34 36.02 382.38 37.97 377.49 38.94 375.53 39.91 374.55M33.11 385.32 34.08 384.34 35.05 382.38 37 377.49 37.97 375.53 38.94 374.55 41.86 374.55 42.83 375.53 43.8 377.49 43.8 381.4 42.83 383.36 41.86 384.34 39.91 385.32 43.8 385.32 41.86 384.34M32.14 358.89 30.19 357.91 34.08 357.91 32.14 358.89 31.16 359.87 30.19 361.82 30.19 365.74 31.16 367.7 32.14 368.68 34.08 368.68 35.05 367.7 36.02 365.74 37.97 360.84 38.94 358.89 39.91 357.91M33.11 368.68 34.08 367.7 35.05 365.74 37 360.84 37.97 358.89 38.94 357.91 41.86 357.91 42.83 358.89 43.8 360.84 43.8 364.76 42.83 366.72 41.86 367.7 39.91 368.68 43.8 368.68 41.86 367.7M19.5 328.54 21.44 330.5 24.36 332.45 28.25 334.41 33.11 335.39 37 335.39 41.86 334.41 45.74 332.45 48.66 330.5 50.6 328.54M21.44 330.5 25.33 332.45 28.25 333.43 33.11 334.41 37 334.41 41.86 333.43 44.77 332.45 48.66 330.5M30.19 320.71 43.8 320.71M30.19 319.73 43.8 319.73M33.11 319.73 31.16 317.77 30.19 314.83 30.19 312.87 31.16 309.94 33.11 308.96 43.8 308.96M30.19 312.87 31.16 310.92 33.11 309.94 43.8 309.94M33.11 308.96 31.16 307 30.19 304.06 30.19 302.1 31.16 299.17 33.11 298.19 43.8 298.19M30.19 302.1 31.16 300.15 33.11 299.17 43.8 299.17M30.19 323.64 30.19 319.73M43.8 323.64 43.8 316.79M43.8 312.87 43.8 306.02M43.8 302.1 43.8 295.25M32.14 288.4 33.11 288.4 33.11 289.38 32.14 289.38 31.16 288.4 30.19 286.44 30.19 282.52 31.16 280.57 32.14 279.59 34.08 278.61 40.88 278.61 42.83 277.63 43.8 276.65M32.14 279.59 40.88 279.59 42.83 278.61 43.8 276.65 43.8 275.67M34.08 279.59 35.05 280.57 36.02 286.44 37 289.38 38.94 290.36 40.88 290.36 42.83 289.38 43.8 286.44 43.8 283.5 42.83 281.55 40.88 279.59M36.02 286.44 37 288.4 38.94 289.38 40.88 289.38 42.83 288.4 43.8 286.44M30.19 265.88 31.16 267.84 32.14 268.82 34.08 269.8 36.02 269.8 37.97 268.82 38.94 267.84 39.91 265.88 39.91 263.92 38.94 261.97 37.97 260.99 36.02 260.01 34.08 260.01 32.14 260.99 31.16 261.97 30.19 263.92 30.19 265.88M31.16 267.84 33.11 268.82 37 268.82 38.94 267.84M38.94 261.97 37 260.99 33.11 260.99 31.16 261.97M32.14 260.99 31.16 260.01 30.19 258.05 31.16 258.05 31.16 260.01M37.97 268.82 38.94 269.8 40.88 270.78 41.86 270.78 43.8 269.8 44.77 266.86 44.77 261.97 45.74 259.03 46.72 258.05M41.86 270.78 42.83 269.8 43.8 266.86 43.8 261.97 44.77 259.03 46.72 258.05 47.69 258.05 49.63 259.03 50.6 261.97 50.6 267.84 49.63 270.78 47.69 271.76 46.72 271.76 44.77 270.78 43.8 267.84M32.14 234.55 33.11 234.55 33.11 235.53 32.14 235.53 31.16 234.55 30.19 232.6 30.19 228.68 31.16 226.72 32.14 225.74 34.08 224.76 40.88 224.76 42.83 223.78 43.8 222.81M32.14 225.74 40.88 225.74 42.83 224.76 43.8 222.81 43.8 221.83M34.08 225.74 35.05 226.72 36.02 232.6 37 235.53 38.94 236.51 40.88 236.51 42.83 235.53 43.8 232.6 43.8 229.66 42.83 227.7 40.88 225.74M36.02 232.6 37 234.55 38.94 235.53 40.88 235.53 42.83 234.55 43.8 232.6M30.19 214.97 43.8 214.97M30.19 213.99 43.8 213.99M36.02 213.99 33.11 213.02 31.16 211.06 30.19 209.1 30.19 206.16 31.16 205.18 32.14 205.18 33.11 206.16 32.14 207.14 31.16 206.16M30.19 217.91 30.19 213.99M43.8 217.91 43.8 211.06M33.11 188.54 34.08 189.52 35.05 188.54 34.08 187.56 33.11 187.56 31.16 189.52 30.19 191.48 30.19 194.41 31.16 197.35 33.11 199.31 36.02 200.29 37.97 200.29 40.88 199.31 42.83 197.35 43.8 194.41 43.8 192.46 42.83 189.52 40.88 187.56M30.19 194.41 31.16 196.37 33.11 198.33 36.02 199.31 37.97 199.31 40.88 198.33 42.83 196.37 43.8 194.41M32.14 171.9 30.19 170.92 34.08 170.92 32.14 171.9 31.16 172.88 30.19 174.83 30.19 178.75 31.16 180.71 32.14 181.69 34.08 181.69 35.05 180.71 36.02 178.75 37.97 173.86 38.94 171.9 39.91 170.92M33.11 181.69 34.08 180.71 35.05 178.75 37 173.86 37.97 171.9 38.94 170.92 41.86 170.92 42.83 171.9 43.8 173.86 43.8 177.77 42.83 179.73 41.86 180.71 39.91 181.69 43.8 181.69 41.86 180.71M36.02 164.07 36.02 152.32 34.08 152.32 32.14 153.3 31.16 154.28 30.19 156.23 30.19 159.17 31.16 162.11 33.11 164.07 36.02 165.04 37.97 165.04 40.88 164.07 42.83 162.11 43.8 159.17 43.8 157.21 42.83 154.28 40.88 152.32M36.02 153.3 33.11 153.3 31.16 154.28M30.19 159.17 31.16 161.13 33.11 163.09 36.02 164.07 37.97 164.07 40.88 163.09 42.83 161.13 43.8 159.17M33.11 134.7 34.08 135.67 35.05 134.7 34.08 133.72 33.11 133.72 31.16 135.67 30.19 137.63 30.19 140.57 31.16 143.51 33.11 145.46 36.02 146.44 37.97 146.44 40.88 145.46 42.83 143.51 43.8 140.57 43.8 138.61 42.83 135.67 40.88 133.72M30.19 140.57 31.16 142.53 33.11 144.49 36.02 145.46 37.97 145.46 40.88 144.49 42.83 142.53 43.8 140.57M28.83 129.41 28.83 118.84M24.17 114.14 24.75 113.55 25.33 114.14 24.75 114.72 24.17 114.72 23 114.14 22.42 113.55 21.83 111.79 21.83 109.44 22.42 107.68 23 107.09 24.17 106.5 25.33 106.5 26.5 107.09 27.66 108.85 28.83 111.79 29.41 112.96 30.58 114.14 32.33 114.72 34.08 114.72M21.83 109.44 22.42 108.26 23 107.68 24.17 107.09 25.33 107.09 26.5 107.68 27.66 109.44 28.83 111.79M32.91 114.72 32.33 114.14 32.33 112.96 33.5 110.02 33.5 108.26 32.91 107.09 32.33 106.5M32.33 112.96 34.08 110.02 34.08 107.68 33.5 107.09 32.33 106.5 31.16 106.5M19.5 102 21.44 100.04 24.36 98.08 28.25 96.12 33.11 95.14 37 95.14 41.86 96.12 45.74 98.08 48.66 100.04 50.6 102M21.44 100.04 25.33 98.08 28.25 97.1 33.11 96.12 37 96.12 41.86 97.1 44.77 98.08 48.66 100.04" stroke="#000" stroke-width="1.4"><title>Surface Brightness (mag arcsec⁻²)</title></path>
<path role="img" aria-label="n" d="M450.85 46.13 450.85 55.3M451.43 46.13 451.43 55.3M451.43 48.09 452.6 46.78 454.35 46.13 455.51 46.13 457.26 46.78 457.84 48.09 457.84 55.3M455.51 46.13 456.68 46.78 457.26 48.09 457.26 55.3M449.1 46.13 451.43 46.13M449.1 55.3 453.18 55.3M455.51 55.3 459.59 55.3" stroke="#000" stroke-width="1.55"><title>n</title></path>
<path role="img" aria-label="L" d="M506.06 41.54 506.06 55.3M506.72 41.54 506.72 55.3M504.1 41.54 508.69 41.54M504.1 55.3 513.93 55.3 513.93 51.37 513.27 55.3" stroke="#000" stroke-width="1.55"><title>L</title></path>
<path role="img" aria-label="n" d="M516.2 55.12 516.2 61M516.54 55.12 516.54 61M516.54 56.38 517.2 55.54 518.2 55.12 518.87 55.12 519.87 55.54 520.21 56.38 520.21 61M518.87 55.12 519.54 55.54 519.87 56.38 519.87 61M515.2 55.12 516.54 55.12M515.2 61 517.54 61M518.87 61 521.21 61" stroke="#000" stroke-width="1.55"><title>n</title></path>
<path role="img" aria-label="/" d="M534.85 38.92 524.5 59.88" stroke="#000" stroke-width="1.55"><title>/</title></path>
<path role="img" aria-label="L" d="M540.26 41.54 540.26 55.3M540.92 41.54 540.92 55.3M538.3 41.54 542.88 41.54M538.3 55.3 548.12 55.3 548.12 51.37 547.47 55.3" stroke="#000" stroke-width="1.55"><title>L</title></path>
<path role="img" aria-label="n=1" d="M550.41 55.12 550.41 61M550.75 55.12 550.75 61M550.75 56.38 551.43 55.54 552.44 55.12 553.12 55.12 554.13 55.54 554.47 56.38 554.47 61M553.12 55.12 553.8 55.54 554.13 56.38 554.13 61M549.4 55.12 550.75 55.12M549.4 61 551.77 61M553.12 61 555.49 61M558.22 55.71 564.3 55.71M558.22 58.65 564.3 58.65M568.86 53.86 569.51 53.44 570.46 52.18 570.46 61M570.08 52.6 570.08 61M569.05 61 571.52 61" stroke="#000" stroke-width="1.55"><title>n=1</title></path>
<path d="M433.3 74.6H567.5" stroke="#000" stroke-width="1.6" class="ax"/>
<path role="img" aria-label="0.2" d="M446.89 93.65 444.93 94.3 443.62 96.27 442.96 99.54 442.96 101.51 443.62 104.78 444.93 106.75 446.89 107.4 448.2 107.4 450.17 106.75 451.48 104.78 452.13 101.51 452.13 99.54 451.48 96.27 450.17 94.3 448.2 93.65 446.89 93.65M446.89 93.65 445.58 94.3 444.93 94.96 444.27 96.27 443.62 99.54 443.62 101.51 444.27 104.78 444.93 106.09 445.58 106.75 446.89 107.4M448.2 107.4 449.51 106.75 450.17 106.09 450.82 104.78 451.48 101.51 451.48 99.54 450.82 96.27 450.17 94.96 449.51 94.3 448.2 93.65M457.38 106.09 456.72 106.75 457.38 107.4 458.03 106.75 457.38 106.09M463.27 96.27 463.93 96.92 463.27 97.58 462.62 96.92 462.62 96.27 463.27 94.96 463.93 94.3 465.89 93.65 468.51 93.65 470.48 94.3 471.13 94.96 471.79 96.27 471.79 97.58 471.13 98.89 469.17 100.2 465.89 101.51 464.58 102.16 463.27 103.47 462.62 105.44 462.62 107.4M468.51 93.65 469.82 94.3 470.48 94.96 471.13 96.27 471.13 97.58 470.48 98.89 468.51 100.2 465.89 101.51M462.62 106.09 463.27 105.44 464.58 105.44 467.86 106.75 469.82 106.75 471.13 106.09 471.79 105.44M464.58 105.44 467.86 107.4 470.48 107.4 471.13 106.75 471.79 105.44 471.79 104.12" stroke="#000" stroke-width="1.55"><title>0.2</title></path>
<path role="img" aria-label="0.58" d="M519.89 93.65 517.93 94.3 516.62 96.27 515.97 99.54 515.97 101.51 516.62 104.78 517.93 106.75 519.89 107.4 521.21 107.4 523.17 106.75 524.48 104.78 525.13 101.51 525.13 99.54 524.48 96.27 523.17 94.3 521.21 93.65 519.89 93.65M519.89 93.65 518.59 94.3 517.93 94.96 517.27 96.27 516.62 99.54 516.62 101.51 517.27 104.78 517.93 106.09 518.59 106.75 519.89 107.4M521.21 107.4 522.51 106.75 523.17 106.09 523.83 104.78 524.48 101.51 524.48 99.54 523.83 96.27 523.17 94.96 522.51 94.3 521.21 93.65M530.38 106.09 529.72 106.75 530.38 107.4 531.03 106.75 530.38 106.09M536.92 93.65 535.62 100.2M535.62 100.2 536.92 98.89 538.89 98.23 540.86 98.23 542.82 98.89 544.13 100.2 544.78 102.16 544.78 103.47 544.13 105.44 542.82 106.75 540.86 107.4 538.89 107.4 536.92 106.75 536.27 106.09 535.62 104.78 535.62 104.12 536.27 103.47 536.92 104.12 536.27 104.78M540.86 98.23 542.16 98.89 543.48 100.2 544.13 102.16 544.13 103.47 543.48 105.44 542.16 106.75 540.86 107.4M536.92 93.65 543.48 93.65M536.92 94.3 540.2 94.3 543.48 93.65M551.99 93.65 550.02 94.3 549.37 95.61 549.37 97.58 550.02 98.89 551.99 99.54 554.61 99.54 556.58 98.89 557.23 97.58 557.23 95.61 556.58 94.3 554.61 93.65 551.99 93.65M551.99 93.65 550.68 94.3 550.02 95.61 550.02 97.58 550.68 98.89 551.99 99.54M554.61 99.54 555.92 98.89 556.58 97.58 556.58 95.61 555.92 94.3 554.61 93.65M551.99 99.54 550.02 100.2 549.37 100.85 548.72 102.16 548.72 104.78 549.37 106.09 550.02 106.75 551.99 107.4 554.61 107.4 556.58 106.75 557.23 106.09 557.88 104.78 557.88 102.16 557.23 100.85 556.58 100.2 554.61 99.54M551.99 99.54 550.68 100.2 550.02 100.85 549.37 102.16 549.37 104.78 550.02 106.09 550.68 106.75 551.99 107.4M554.61 107.4 555.92 106.75 556.58 106.09 557.23 104.78 557.23 102.16 556.58 100.85 555.92 100.2 554.61 99.54" stroke="#000" stroke-width="1.55"><title>0.58</title></path>
<path role="img" aria-label="0.6" d="M446.89 122.55 444.93 123.2 443.62 125.17 442.96 128.44 442.96 130.41 443.62 133.68 444.93 135.65 446.89 136.3 448.2 136.3 450.17 135.65 451.48 133.68 452.13 130.41 452.13 128.44 451.48 125.17 450.17 123.2 448.2 122.55 446.89 122.55M446.89 122.55 445.58 123.2 444.93 123.86 444.27 125.17 443.62 128.44 443.62 130.41 444.27 133.68 444.93 134.99 445.58 135.65 446.89 136.3M448.2 136.3 449.51 135.65 450.17 134.99 450.82 133.68 451.48 130.41 451.48 128.44 450.82 125.17 450.17 123.86 449.51 123.2 448.2 122.55M457.38 134.99 456.72 135.65 457.38 136.3 458.03 135.65 457.38 134.99M470.48 124.51 469.82 125.17 470.48 125.82 471.13 125.17 471.13 124.51 470.48 123.2 469.17 122.55 467.2 122.55 465.24 123.2 463.93 124.51 463.27 125.82 462.62 128.44 462.62 132.37 463.27 134.34 464.58 135.65 466.55 136.3 467.86 136.3 469.82 135.65 471.13 134.34 471.79 132.37 471.79 131.72 471.13 129.75 469.82 128.44 467.86 127.79 467.2 127.79 465.24 128.44 463.93 129.75 463.27 131.72M467.2 122.55 465.89 123.2 464.58 124.51 463.93 125.82 463.27 128.44 463.27 132.37 463.93 134.34 465.24 135.65 466.55 136.3M467.86 136.3 469.17 135.65 470.48 134.34 471.13 132.37 471.13 131.72 470.48 129.75 469.17 128.44 467.86 127.79" stroke="#000" stroke-width="1.55"><title>0.6</title></path>
<path role="img" aria-label="0.81" d="M519.89 122.55 517.93 123.2 516.62 125.17 515.97 128.44 515.97 130.41 516.62 133.68 517.93 135.65 519.89 136.3 521.21 136.3 523.17 135.65 524.48 133.68 525.13 130.41 525.13 128.44 524.48 125.17 523.17 123.2 521.21 122.55 519.89 122.55M519.89 122.55 518.59 123.2 517.93 123.86 517.27 125.17 516.62 128.44 516.62 130.41 517.27 133.68 517.93 134.99 518.59 135.65 519.89 136.3M521.21 136.3 522.51 135.65 523.17 134.99 523.83 133.68 524.48 130.41 524.48 128.44 523.83 125.17 523.17 123.86 522.51 123.2 521.21 122.55M530.38 134.99 529.72 135.65 530.38 136.3 531.03 135.65 530.38 134.99M538.89 122.55 536.92 123.2 536.27 124.51 536.27 126.48 536.92 127.79 538.89 128.44 541.51 128.44 543.48 127.79 544.13 126.48 544.13 124.51 543.48 123.2 541.51 122.55 538.89 122.55M538.89 122.55 537.58 123.2 536.92 124.51 536.92 126.48 537.58 127.79 538.89 128.44M541.51 128.44 542.82 127.79 543.48 126.48 543.48 124.51 542.82 123.2 541.51 122.55M538.89 128.44 536.92 129.09 536.27 129.75 535.62 131.06 535.62 133.68 536.27 134.99 536.92 135.65 538.89 136.3 541.51 136.3 543.48 135.65 544.13 134.99 544.78 133.68 544.78 131.06 544.13 129.75 543.48 129.09 541.51 128.44M538.89 128.44 537.58 129.09 536.92 129.75 536.27 131.06 536.27 133.68 536.92 134.99 537.58 135.65 538.89 136.3M541.51 136.3 542.82 135.65 543.48 134.99 544.13 133.68 544.13 131.06 543.48 129.75 542.82 129.09 541.51 128.44M551.34 125.17 552.45 124.51 554.09 122.55 554.09 136.3M553.43 123.2 553.43 136.3M551.66 136.3 555.92 136.3" stroke="#000" stroke-width="1.55"><title>0.81</title></path>
<path role="img" aria-label="1.0" d="M445.58 154.06 446.7 153.41 448.34 151.44 448.34 165.2M447.68 152.1 447.68 165.2M445.91 165.2 450.17 165.2M457.38 163.89 456.72 164.54 457.38 165.2 458.03 164.54 457.38 163.89M466.55 151.44 464.58 152.1 463.27 154.06 462.62 157.34 462.62 159.3 463.27 162.58 464.58 164.54 466.55 165.2 467.86 165.2 469.82 164.54 471.13 162.58 471.79 159.3 471.79 157.34 471.13 154.06 469.82 152.1 467.86 151.44 466.55 151.44M466.55 151.44 465.24 152.1 464.58 152.75 463.93 154.06 463.27 157.34 463.27 159.3 463.93 162.58 464.58 163.89 465.24 164.54 466.55 165.2M467.86 165.2 469.17 164.54 469.82 163.89 470.48 162.58 471.13 159.3 471.13 157.34 470.48 154.06 469.82 152.75 469.17 152.1 467.86 151.44" stroke="#000" stroke-width="1.55"><title>1.0</title></path>
<path role="img" aria-label="1.00" d="M518.59 154.06 519.7 153.41 521.34 151.44 521.34 165.2M520.68 152.1 520.68 165.2M518.91 165.2 523.17 165.2M530.38 163.89 529.72 164.54 530.38 165.2 531.03 164.54 530.38 163.89M539.54 151.44 537.58 152.1 536.27 154.06 535.62 157.34 535.62 159.3 536.27 162.58 537.58 164.54 539.54 165.2 540.86 165.2 542.82 164.54 544.13 162.58 544.78 159.3 544.78 157.34 544.13 154.06 542.82 152.1 540.86 151.44 539.54 151.44M539.54 151.44 538.24 152.1 537.58 152.75 536.92 154.06 536.27 157.34 536.27 159.3 536.92 162.58 537.58 163.89 538.24 164.54 539.54 165.2M540.86 165.2 542.16 164.54 542.82 163.89 543.48 162.58 544.13 159.3 544.13 157.34 543.48 154.06 542.82 152.75 542.16 152.1 540.86 151.44M552.64 151.44 550.68 152.1 549.37 154.06 548.72 157.34 548.72 159.3 549.37 162.58 550.68 164.54 552.64 165.2 553.96 165.2 555.92 164.54 557.23 162.58 557.88 159.3 557.88 157.34 557.23 154.06 555.92 152.1 553.96 151.44 552.64 151.44M552.64 151.44 551.34 152.1 550.68 152.75 550.02 154.06 549.37 157.34 549.37 159.3 550.02 162.58 550.68 163.89 551.34 164.54 552.64 165.2M553.96 165.2 555.26 164.54 555.92 163.89 556.58 162.58 557.23 159.3 557.23 157.34 556.58 154.06 555.92 152.75 555.26 152.1 553.96 151.44" stroke="#000" stroke-width="1.55"><title>1.00</title></path>
<path role="img" aria-label="1.4" d="M445.58 182.97 446.7 182.31 448.34 180.34 448.34 194.1M447.68 181 447.68 194.1M445.91 194.1 450.17 194.1M457.38 192.79 456.72 193.44 457.38 194.1 458.03 193.44 457.38 192.79M468.9 181.66 468.9 194.1M469.56 180.34 469.56 194.1M469.56 180.34 462.29 190.17 471.65 190.17M467.59 194.1 470.8 194.1" stroke="#000" stroke-width="1.55"><title>1.4</title></path>
<path role="img" aria-label="1.16" d="M518.59 182.97 519.7 182.31 521.34 180.34 521.34 194.1M520.68 181 520.68 194.1M518.91 194.1 523.17 194.1M530.38 192.79 529.72 193.44 530.38 194.1 531.03 193.44 530.38 192.79M538.24 182.97 539.35 182.31 540.99 180.34 540.99 194.1M540.33 181 540.33 194.1M538.56 194.1 542.82 194.1M556.58 182.31 555.92 182.97 556.58 183.62 557.23 182.97 557.23 182.31 556.58 181 555.26 180.34 553.3 180.34 551.34 181 550.02 182.31 549.37 183.62 548.72 186.24 548.72 190.17 549.37 192.13 550.68 193.44 552.64 194.1 553.96 194.1 555.92 193.44 557.23 192.13 557.88 190.17 557.88 189.51 557.23 187.55 555.92 186.24 553.96 185.58 553.3 185.58 551.34 186.24 550.02 187.55 549.37 189.51M553.3 180.34 551.99 181 550.68 182.31 550.02 183.62 549.37 186.24 549.37 190.17 550.02 192.13 551.34 193.44 552.64 194.1M553.96 194.1 555.26 193.44 556.58 192.13 557.23 190.17 557.23 189.51 556.58 187.55 555.26 186.24 553.96 185.58" stroke="#000" stroke-width="1.55"><title>1.16</title></path>
<path role="img" aria-label="2.0" d="M443.62 211.87 444.27 212.52 443.62 213.18 442.96 212.52 442.96 211.87 443.62 210.56 444.27 209.9 446.24 209.25 448.86 209.25 450.82 209.9 451.48 210.56 452.13 211.87 452.13 213.18 451.48 214.49 449.51 215.79 446.24 217.1 444.93 217.76 443.62 219.07 442.96 221.03 442.96 223M448.86 209.25 450.17 209.9 450.82 210.56 451.48 211.87 451.48 213.18 450.82 214.49 448.86 215.79 446.24 217.1M442.96 221.69 443.62 221.03 444.93 221.03 448.2 222.34 450.17 222.34 451.48 221.69 452.13 221.03M444.93 221.03 448.2 223 450.82 223 451.48 222.34 452.13 221.03 452.13 219.72M457.38 221.69 456.72 222.34 457.38 223 458.03 222.34 457.38 221.69M466.55 209.25 464.58 209.9 463.27 211.87 462.62 215.14 462.62 217.1 463.27 220.38 464.58 222.34 466.55 223 467.86 223 469.82 222.34 471.13 220.38 471.79 217.1 471.79 215.14 471.13 211.87 469.82 209.9 467.86 209.25 466.55 209.25M466.55 209.25 465.24 209.9 464.58 210.56 463.93 211.87 463.27 215.14 463.27 217.1 463.93 220.38 464.58 221.69 465.24 222.34 466.55 223M467.86 223 469.17 222.34 469.82 221.69 470.48 220.38 471.13 217.1 471.13 215.14 470.48 211.87 469.82 210.56 469.17 209.9 467.86 209.25" stroke="#000" stroke-width="1.55"><title>2.0</title></path>
<path role="img" aria-label="1.36" d="M518.59 211.87 519.7 211.21 521.34 209.25 521.34 223M520.68 209.9 520.68 223M518.91 223 523.17 223M530.38 221.69 529.72 222.34 530.38 223 531.03 222.34 530.38 221.69M536.27 211.87 536.92 212.52 536.27 213.18 535.62 212.52 535.62 211.87 536.27 210.56 536.92 209.9 538.89 209.25 541.51 209.25 543.48 209.9 544.13 211.21 544.13 213.18 543.48 214.49 541.51 215.14 539.54 215.14M541.51 209.25 542.82 209.9 543.48 211.21 543.48 213.18 542.82 214.49 541.51 215.14M541.51 215.14 542.82 215.79 544.13 217.1 544.78 218.41 544.78 220.38 544.13 221.69 543.48 222.34 541.51 223 538.89 223 536.92 222.34 536.27 221.69 535.62 220.38 535.62 219.72 536.27 219.07 536.92 219.72 536.27 220.38M543.48 216.45 544.13 218.41 544.13 220.38 543.48 221.69 542.82 222.34 541.51 223M556.58 211.21 555.92 211.87 556.58 212.52 557.23 211.87 557.23 211.21 556.58 209.9 555.26 209.25 553.3 209.25 551.34 209.9 550.02 211.21 549.37 212.52 548.72 215.14 548.72 219.07 549.37 221.03 550.68 222.34 552.64 223 553.96 223 555.92 222.34 557.23 221.03 557.88 219.07 557.88 218.41 557.23 216.45 555.92 215.14 553.96 214.49 553.3 214.49 551.34 215.14 550.02 216.45 549.37 218.41M553.3 209.25 551.99 209.9 550.68 211.21 550.02 212.52 549.37 215.14 549.37 219.07 550.02 221.03 551.34 222.34 552.64 223M553.96 223 555.26 222.34 556.58 221.03 557.23 219.07 557.23 218.41 556.58 216.45 555.26 215.14 553.96 214.49" stroke="#000" stroke-width="1.55"><title>1.36</title></path>
<path role="img" aria-label="2.6" d="M443.62 240.77 444.27 241.42 443.62 242.08 442.96 241.42 442.96 240.77 443.62 239.46 444.27 238.8 446.24 238.15 448.86 238.15 450.82 238.8 451.48 239.46 452.13 240.77 452.13 242.08 451.48 243.38 449.51 244.69 446.24 246 444.93 246.66 443.62 247.97 442.96 249.94 442.96 251.9M448.86 238.15 450.17 238.8 450.82 239.46 451.48 240.77 451.48 242.08 450.82 243.38 448.86 244.69 446.24 246M442.96 250.59 443.62 249.94 444.93 249.94 448.2 251.25 450.17 251.25 451.48 250.59 452.13 249.94M444.93 249.94 448.2 251.9 450.82 251.9 451.48 251.25 452.13 249.94 452.13 248.62M457.38 250.59 456.72 251.25 457.38 251.9 458.03 251.25 457.38 250.59M470.48 240.11 469.82 240.77 470.48 241.42 471.13 240.77 471.13 240.11 470.48 238.8 469.17 238.15 467.2 238.15 465.24 238.8 463.93 240.11 463.27 241.42 462.62 244.04 462.62 247.97 463.27 249.94 464.58 251.25 466.55 251.9 467.86 251.9 469.82 251.25 471.13 249.94 471.79 247.97 471.79 247.31 471.13 245.35 469.82 244.04 467.86 243.38 467.2 243.38 465.24 244.04 463.93 245.35 463.27 247.31M467.2 238.15 465.89 238.8 464.58 240.11 463.93 241.42 463.27 244.04 463.27 247.97 463.93 249.94 465.24 251.25 466.55 251.9M467.86 251.9 469.17 251.25 470.48 249.94 471.13 247.97 471.13 247.31 470.48 245.35 469.17 244.04 467.86 243.38" stroke="#000" stroke-width="1.55"><title>2.6</title></path>
<path role="img" aria-label="1.54" d="M518.59 240.77 519.7 240.11 521.34 238.15 521.34 251.9M520.68 238.8 520.68 251.9M518.91 251.9 523.17 251.9M530.38 250.59 529.72 251.25 530.38 251.9 531.03 251.25 530.38 250.59M536.92 238.15 535.62 244.69M535.62 244.69 536.92 243.38 538.89 242.73 540.86 242.73 542.82 243.38 544.13 244.69 544.78 246.66 544.78 247.97 544.13 249.94 542.82 251.25 540.86 251.9 538.89 251.9 536.92 251.25 536.27 250.59 535.62 249.28 535.62 248.62 536.27 247.97 536.92 248.62 536.27 249.28M540.86 242.73 542.16 243.38 543.48 244.69 544.13 246.66 544.13 247.97 543.48 249.94 542.16 251.25 540.86 251.9M536.92 238.15 543.48 238.15M536.92 238.8 540.2 238.8 543.48 238.15M555 239.46 555 251.9M555.66 238.15 555.66 251.9M555.66 238.15 548.39 247.97 557.75 247.97M553.69 251.9 556.9 251.9" stroke="#000" stroke-width="1.55"><title>1.54</title></path>
<path role="img" aria-label="3.2" d="M443.62 269.66 444.27 270.32 443.62 270.97 442.96 270.32 442.96 269.66 443.62 268.35 444.27 267.7 446.24 267.04 448.86 267.04 450.82 267.7 451.48 269.01 451.48 270.97 450.82 272.28 448.86 272.94 446.89 272.94M448.86 267.04 450.17 267.7 450.82 269.01 450.82 270.97 450.17 272.28 448.86 272.94M448.86 272.94 450.17 273.59 451.48 274.9 452.13 276.21 452.13 278.18 451.48 279.49 450.82 280.14 448.86 280.8 446.24 280.8 444.27 280.14 443.62 279.49 442.96 278.18 442.96 277.52 443.62 276.87 444.27 277.52 443.62 278.18M450.82 274.25 451.48 276.21 451.48 278.18 450.82 279.49 450.17 280.14 448.86 280.8M457.38 279.49 456.72 280.14 457.38 280.8 458.03 280.14 457.38 279.49M463.27 269.66 463.93 270.32 463.27 270.97 462.62 270.32 462.62 269.66 463.27 268.35 463.93 267.7 465.89 267.04 468.51 267.04 470.48 267.7 471.13 268.35 471.79 269.66 471.79 270.97 471.13 272.28 469.17 273.59 465.89 274.9 464.58 275.56 463.27 276.87 462.62 278.83 462.62 280.8M468.51 267.04 469.82 267.7 470.48 268.35 471.13 269.66 471.13 270.97 470.48 272.28 468.51 273.59 465.89 274.9M462.62 279.49 463.27 278.83 464.58 278.83 467.86 280.14 469.82 280.14 471.13 279.49 471.79 278.83M464.58 278.83 467.86 280.8 470.48 280.8 471.13 280.14 471.79 278.83 471.79 277.52" stroke="#000" stroke-width="1.55"><title>3.2</title></path>
<path role="img" aria-label="1.70" d="M518.59 269.66 519.7 269.01 521.34 267.04 521.34 280.8M520.68 267.7 520.68 280.8M518.91 280.8 523.17 280.8M530.38 279.49 529.72 280.14 530.38 280.8 531.03 280.14 530.38 279.49M535.62 267.04 535.62 270.97M535.62 269.66 536.27 268.35 537.58 267.04 538.89 267.04 542.16 269.01 543.48 269.01 544.13 268.35 544.78 267.04M536.27 268.35 537.58 267.7 538.89 267.7 542.16 269.01M544.78 267.04 544.78 269.01 544.13 270.97 541.51 274.25 540.86 275.56 540.2 277.52 540.2 280.8M544.13 270.97 540.86 274.25 540.2 275.56 539.54 277.52 539.54 280.8M552.64 267.04 550.68 267.7 549.37 269.66 548.72 272.94 548.72 274.9 549.37 278.18 550.68 280.14 552.64 280.8 553.96 280.8 555.92 280.14 557.23 278.18 557.88 274.9 557.88 272.94 557.23 269.66 555.92 267.7 553.96 267.04 552.64 267.04M552.64 267.04 551.34 267.7 550.68 268.35 550.02 269.66 549.37 272.94 549.37 274.9 550.02 278.18 550.68 279.49 551.34 280.14 552.64 280.8M553.96 280.8 555.26 280.14 555.92 279.49 556.58 278.18 557.23 274.9 557.23 272.94 556.58 269.66 555.92 268.35 555.26 267.7 553.96 267.04" stroke="#000" stroke-width="1.55"><title>1.70</title></path>
<path role="img" aria-label="4.0" d="M449.25 297.25 449.25 309.7M449.91 295.94 449.91 309.7M449.91 295.94 442.64 305.77 452 305.77M447.94 309.7 451.15 309.7M457.38 308.39 456.72 309.05 457.38 309.7 458.03 309.05 457.38 308.39M466.55 295.94 464.58 296.6 463.27 298.56 462.62 301.84 462.62 303.81 463.27 307.08 464.58 309.05 466.55 309.7 467.86 309.7 469.82 309.05 471.13 307.08 471.79 303.81 471.79 301.84 471.13 298.56 469.82 296.6 467.86 295.94 466.55 295.94M466.55 295.94 465.24 296.6 464.58 297.25 463.93 298.56 463.27 301.84 463.27 303.81 463.93 307.08 464.58 308.39 465.24 309.05 466.55 309.7M467.86 309.7 469.17 309.05 469.82 308.39 470.48 307.08 471.13 303.81 471.13 301.84 470.48 298.56 469.82 297.25 469.17 296.6 467.86 295.94" stroke="#000" stroke-width="1.55"><title>4.0</title></path>
<path role="img" aria-label="1.90" d="M518.59 298.56 519.7 297.91 521.34 295.94 521.34 309.7M520.68 296.6 520.68 309.7M518.91 309.7 523.17 309.7M530.38 308.39 529.72 309.05 530.38 309.7 531.03 309.05 530.38 308.39M544.13 300.53 543.48 302.5 542.16 303.81 540.2 304.46 539.54 304.46 537.58 303.81 536.27 302.5 535.62 300.53 535.62 299.88 536.27 297.91 537.58 296.6 539.54 295.94 540.86 295.94 542.82 296.6 544.13 297.91 544.78 299.88 544.78 303.81 544.13 306.43 543.48 307.74 542.16 309.05 540.2 309.7 538.24 309.7 536.92 309.05 536.27 307.74 536.27 307.08 536.92 306.43 537.58 307.08 536.92 307.74M539.54 304.46 538.24 303.81 536.92 302.5 536.27 300.53 536.27 299.88 536.92 297.91 538.24 296.6 539.54 295.94M540.86 295.94 542.16 296.6 543.48 297.91 544.13 299.88 544.13 303.81 543.48 306.43 542.82 307.74 541.51 309.05 540.2 309.7M552.64 295.94 550.68 296.6 549.37 298.56 548.72 301.84 548.72 303.81 549.37 307.08 550.68 309.05 552.64 309.7 553.96 309.7 555.92 309.05 557.23 307.08 557.88 303.81 557.88 301.84 557.23 298.56 555.92 296.6 553.96 295.94 552.64 295.94M552.64 295.94 551.34 296.6 550.68 297.25 550.02 298.56 549.37 301.84 549.37 303.81 550.02 307.08 550.68 308.39 551.34 309.05 552.64 309.7M553.96 309.7 555.26 309.05 555.92 308.39 556.58 307.08 557.23 303.81 557.23 301.84 556.58 298.56 555.92 297.25 555.26 296.6 553.96 295.94" stroke="#000" stroke-width="1.55"><title>1.90</title></path>
<path role="img" aria-label="r" d="M652.87 79.73 652.87 88.9M653.52 79.73 653.52 88.9M653.52 83.66 654.17 81.7 655.49 80.39 656.79 79.73 658.76 79.73 659.41 80.39 659.41 81.04 658.76 81.7 658.11 81.04 658.76 80.39M650.9 79.73 653.52 79.73M650.9 88.9 655.49 88.9" stroke="#000" stroke-width="1.55"><title>r</title></path>
<path role="img" aria-label="e" d="M662.23 91.9 667.39 91.9 667.39 91 666.96 90.1 666.53 89.65 665.67 89.2 664.38 89.2 663.09 89.65 662.23 90.55 661.8 91.9 661.8 92.8 662.23 94.15 663.09 95.05 664.38 95.5 665.24 95.5 666.53 95.05 667.39 94.15M666.96 91.9 666.96 90.55 666.53 89.65M664.38 89.2 663.52 89.65 662.66 90.55 662.23 91.9 662.23 92.8 662.66 94.15 663.52 95.05 664.38 95.5" stroke="#000" stroke-width="1.55"><title>e</title></path>
<path role="img" aria-label="=" d="M681.9 80.65 694.35 80.65M681.9 85.23 694.35 85.23" stroke="#000" stroke-width="1.55"><title>=</title></path>
<path role="img" aria-label="3.5" d="M711.39 77.77 712.08 78.42 711.39 79.08 710.7 78.42 710.7 77.77 711.39 76.46 712.08 75.8 714.15 75.15 716.91 75.15 718.98 75.8 719.67 77.11 719.67 79.08 718.98 80.39 716.91 81.04 714.84 81.04M716.91 75.15 718.29 75.8 718.98 77.11 718.98 79.08 718.29 80.39 716.91 81.04M716.91 81.04 718.29 81.7 719.67 83.01 720.36 84.32 720.36 86.28 719.67 87.59 718.98 88.25 716.91 88.9 714.15 88.9 712.08 88.25 711.39 87.59 710.7 86.28 710.7 85.62 711.39 84.97 712.08 85.62 711.39 86.28M718.98 82.35 719.67 84.32 719.67 86.28 718.98 87.59 718.29 88.25 716.91 88.9M725.88 87.59 725.19 88.25 725.88 88.9 726.57 88.25 725.88 87.59M732.78 75.15 731.4 81.7M731.4 81.7 732.78 80.39 734.85 79.73 736.92 79.73 738.99 80.39 740.37 81.7 741.06 83.66 741.06 84.97 740.37 86.94 738.99 88.25 736.92 88.9 734.85 88.9 732.78 88.25 732.09 87.59 731.4 86.28 731.4 85.62 732.09 84.97 732.78 85.62 732.09 86.28M736.92 79.73 738.3 80.39 739.68 81.7 740.37 83.66 740.37 84.97 739.68 86.94 738.3 88.25 736.92 88.9M732.78 75.15 739.68 75.15M732.78 75.8 736.23 75.8 739.68 75.15" stroke="#000" stroke-width="1.55"><title>3.5</title></path>
<path role="img" aria-label="arcsec" d="M751.05 71.9L750.2 80M752.2 71.9L750.2 80M753.35 71.9L750.2 80M756.75 71.9L755.9 80M757.9 71.9L755.9 80M759.05 71.9L755.9 80" stroke="#000" stroke-width="1.65"><title>″</title></path>
<path role="img" aria-label="μ" d="M653.93 119.83 650 133.59M654.59 119.83 650.65 133.59M653.93 121.8 653.27 125.72 653.27 127.69 654.59 129 655.89 129 657.21 128.34 658.51 127.03 659.83 125.07M661.13 119.83 659.17 127.03 659.17 128.34 659.83 129 661.79 129 663.1 127.69 663.75 126.38M661.79 119.83 659.83 127.03 659.83 128.34 660.48 129" stroke="#000" stroke-width="1.55"><title>μ</title></path>
<path role="img" aria-label="e" d="M666.03 132 671.19 132 671.19 131.1 670.76 130.2 670.33 129.75 669.47 129.3 668.18 129.3 666.89 129.75 666.03 130.65 665.6 132 665.6 132.9 666.03 134.25 666.89 135.15 668.18 135.6 669.04 135.6 670.33 135.15 671.19 134.25M670.76 132 670.76 130.65 670.33 129.75M668.18 129.3 667.32 129.75 666.46 130.65 666.03 132 666.03 132.9 666.46 134.25 667.32 135.15 668.18 135.6" stroke="#000" stroke-width="1.55"><title>e</title></path>
<path role="img" aria-label="=" d="M686.6 120.75 699.05 120.75M686.6 125.33 699.05 125.33" stroke="#000" stroke-width="1.55"><title>=</title></path>
<path role="img" aria-label="21" d="M715.29 117.86 715.98 118.52 715.29 119.17 714.6 118.52 714.6 117.86 715.29 116.56 715.98 115.9 718.05 115.25 720.81 115.25 722.88 115.9 723.57 116.56 724.26 117.86 724.26 119.17 723.57 120.48 721.5 121.8 718.05 123.11 716.67 123.76 715.29 125.07 714.6 127.03 714.6 129M720.81 115.25 722.19 115.9 722.88 116.56 723.57 117.86 723.57 119.17 722.88 120.48 720.81 121.8 718.05 123.11M714.6 127.69 715.29 127.03 716.67 127.03 720.12 128.34 722.19 128.34 723.57 127.69 724.26 127.03M716.67 127.03 720.12 129 722.88 129 723.57 128.34 724.26 127.03 724.26 125.72M730.47 117.86 731.85 117.21 733.92 115.25 733.92 129M733.23 115.9 733.23 129M730.47 129 736.68 129" stroke="#000" stroke-width="1.55"><title>21</title></path>
<path role="img" aria-label="r" d="M652.87 452.63 652.87 461.8M653.52 452.63 653.52 461.8M653.52 456.56 654.17 454.6 655.49 453.29 656.79 452.63 658.76 452.63 659.41 453.29 659.41 453.94 658.76 454.6 658.11 453.94 658.76 453.29M650.9 452.63 653.52 452.63M650.9 461.8 655.49 461.8" stroke="#000" stroke-width="1.55"><title>r</title></path>
<path role="img" aria-label="e" d="M662.23 464.8 667.39 464.8 667.39 463.9 666.96 463 666.53 462.55 665.67 462.1 664.38 462.1 663.09 462.55 662.23 463.45 661.8 464.8 661.8 465.7 662.23 467.05 663.09 467.95 664.38 468.4 665.24 468.4 666.53 467.95 667.39 467.05M666.96 464.8 666.96 463.45 666.53 462.55M664.38 462.1 663.52 462.55 662.66 463.45 662.23 464.8 662.23 465.7 662.66 467.05 663.52 467.95 664.38 468.4" stroke="#000" stroke-width="1.55"><title>e</title></path>
<path role="img" aria-label="=" d="M681.9 453.55 694.35 453.55M681.9 458.13 694.35 458.13" stroke="#000" stroke-width="1.55"><title>=</title></path>
<path role="img" aria-label="3.5" d="M711.39 450.67 712.08 451.32 711.39 451.98 710.7 451.32 710.7 450.67 711.39 449.36 712.08 448.7 714.15 448.05 716.91 448.05 718.98 448.7 719.67 450.01 719.67 451.98 718.98 453.29 716.91 453.94 714.84 453.94M716.91 448.05 718.29 448.7 718.98 450.01 718.98 451.98 718.29 453.29 716.91 453.94M716.91 453.94 718.29 454.6 719.67 455.91 720.36 457.22 720.36 459.18 719.67 460.49 718.98 461.15 716.91 461.8 714.15 461.8 712.08 461.15 711.39 460.49 710.7 459.18 710.7 458.53 711.39 457.87 712.08 458.53 711.39 459.18M718.98 455.25 719.67 457.22 719.67 459.18 718.98 460.49 718.29 461.15 716.91 461.8M725.88 460.49 725.19 461.15 725.88 461.8 726.57 461.15 725.88 460.49M732.78 448.05 731.4 454.6M731.4 454.6 732.78 453.29 734.85 452.63 736.92 452.63 738.99 453.29 740.37 454.6 741.06 456.56 741.06 457.87 740.37 459.84 738.99 461.15 736.92 461.8 734.85 461.8 732.78 461.15 732.09 460.49 731.4 459.18 731.4 458.53 732.09 457.87 732.78 458.53 732.09 459.18M736.92 452.63 738.3 453.29 739.68 454.6 740.37 456.56 740.37 457.87 739.68 459.84 738.3 461.15 736.92 461.8M732.78 448.05 739.68 448.05M732.78 448.7 736.23 448.7 739.68 448.05" stroke="#000" stroke-width="1.55"><title>3.5</title></path>
<path role="img" aria-label="arcsec" d="M751.05 444.8L750.2 452.9M752.2 444.8L750.2 452.9M753.35 444.8L750.2 452.9M756.75 444.8L755.9 452.9M757.9 444.8L755.9 452.9M759.05 444.8L755.9 452.9" stroke="#000" stroke-width="1.65"><title>″</title></path>
<path role="img" aria-label="μ" d="M653.93 493.13 650 506.88M654.59 493.13 650.65 506.88M653.93 495.1 653.27 499.03 653.27 500.99 654.59 502.3 655.89 502.3 657.21 501.65 658.51 500.34 659.83 498.37M661.13 493.13 659.17 500.34 659.17 501.65 659.83 502.3 661.79 502.3 663.1 500.99 663.75 499.68M661.79 493.13 659.83 500.34 659.83 501.65 660.48 502.3" stroke="#000" stroke-width="1.55"><title>μ</title></path>
<path role="img" aria-label="0" d="M668.18 499.45 666.89 499.9 666.03 501.25 665.6 503.5 665.6 504.85 666.03 507.1 666.89 508.45 668.18 508.9 669.04 508.9 670.33 508.45 671.19 507.1 671.62 504.85 671.62 503.5 671.19 501.25 670.33 499.9 669.04 499.45 668.18 499.45M668.18 499.45 667.32 499.9 666.89 500.35 666.46 501.25 666.03 503.5 666.03 504.85 666.46 507.1 666.89 508 667.32 508.45 668.18 508.9M669.04 508.9 669.9 508.45 670.33 508 670.76 507.1 671.19 504.85 671.19 503.5 670.76 501.25 670.33 500.35 669.9 499.9 669.04 499.45" stroke="#000" stroke-width="1.55"><title>0</title></path>
<path role="img" aria-label="=" d="M686.6 494.05 699.05 494.05M686.6 498.63 699.05 498.63" stroke="#000" stroke-width="1.55"><title>=</title></path>
<path role="img" aria-label="18" d="M718.5 491.17 719.88 490.51 721.95 488.55 721.95 502.3M721.26 489.2 721.26 502.3M718.5 502.3 724.71 502.3M733.68 488.55 731.61 489.2 730.92 490.51 730.92 492.48 731.61 493.79 733.68 494.44 736.44 494.44 738.51 493.79 739.2 492.48 739.2 490.51 738.51 489.2 736.44 488.55 733.68 488.55M733.68 488.55 732.3 489.2 731.61 490.51 731.61 492.48 732.3 493.79 733.68 494.44M736.44 494.44 737.82 493.79 738.51 492.48 738.51 490.51 737.82 489.2 736.44 488.55M733.68 494.44 731.61 495.1 730.92 495.75 730.23 497.06 730.23 499.68 730.92 500.99 731.61 501.65 733.68 502.3 736.44 502.3 738.51 501.65 739.2 500.99 739.89 499.68 739.89 497.06 739.2 495.75 738.51 495.1 736.44 494.44M733.68 494.44 732.3 495.1 731.61 495.75 730.92 497.06 730.92 499.68 731.61 500.99 732.3 501.65 733.68 502.3M736.44 502.3 737.82 501.65 738.51 500.99 739.2 499.68 739.2 497.06 738.51 495.75 737.82 495.1 736.44 494.44" stroke="#000" stroke-width="1.55"><title>18</title></path>
</svg>
</body></html>
